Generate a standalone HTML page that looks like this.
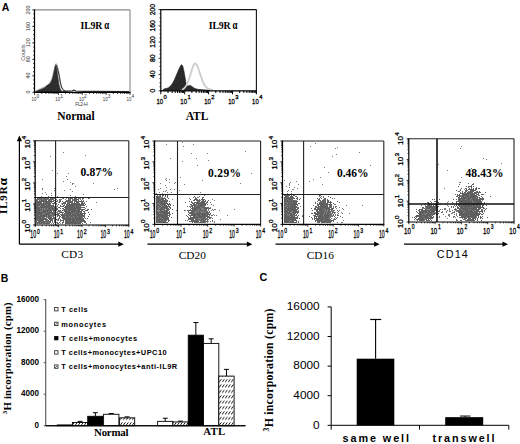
<!DOCTYPE html>
<html><head><meta charset="utf-8"><style>
html,body{margin:0;padding:0;background:#fff;width:520px;height:444px;overflow:hidden}
svg{display:block}
</style></head><body>
<svg width="520" height="444" viewBox="0 0 520 444">
<rect width="520" height="444" fill="#fff"/>
<text x="1.8" y="10.5" font-family='"Liberation Sans", sans-serif' font-size="11" font-weight="bold" fill="#000" text-anchor="start" textLength="7.6" lengthAdjust="spacingAndGlyphs" >A</text>
<text x="0.8" y="281.8" font-family='"Liberation Sans", sans-serif' font-size="10.5" font-weight="bold" fill="#000" text-anchor="start" >B</text>
<text x="259.4" y="281.3" font-family='"Liberation Sans", sans-serif' font-size="10" font-weight="bold" fill="#000" text-anchor="start" textLength="7.8" lengthAdjust="spacingAndGlyphs" >C</text>
<path d="M35,91.5 C35.50,91.25 36.83,90.55 38,90 C39.17,89.45 40.67,88.78 42,88.2 C43.33,87.62 44.83,87.12 46,86.5 C47.17,85.88 48.00,85.75 49,84.5 C50.00,83.25 51.17,81.25 52,79 C52.83,76.75 53.37,73.47 54,71 C54.63,68.53 55.25,65.03 55.8,64.2 C56.35,63.37 56.85,64.70 57.3,66 C57.75,67.30 58.08,69.67 58.5,72 C58.92,74.33 59.38,77.67 59.8,80 C60.22,82.33 60.47,84.42 61,86 C61.53,87.58 62.17,88.67 63,89.5 C63.83,90.33 64.83,90.67 66,91 C67.17,91.33 69.33,91.42 70,91.5" fill="none" stroke="#c4c4c4" stroke-width="1.6"/>
<path d="M35.5,92 C35.92,91.75 36.92,91.00 38,90.5 C39.08,90.00 40.83,89.50 42,89 C43.17,88.50 44.08,88.17 45,87.5 C45.92,86.83 46.67,85.67 47.5,85 C48.33,84.33 49.17,84.58 50,83.5 C50.83,82.42 51.78,80.67 52.5,78.5 C53.22,76.33 53.78,72.67 54.3,70.5 C54.82,68.33 55.22,65.92 55.6,65.5 C55.98,65.08 56.28,66.58 56.6,68 C56.92,69.42 57.20,71.83 57.5,74 C57.80,76.17 58.07,78.83 58.4,81 C58.73,83.17 59.07,85.42 59.5,87 C59.93,88.58 60.42,89.67 61,90.5 C61.58,91.33 62.67,91.75 63,92 Z" fill="#2e2e2e" stroke="#222" stroke-width="0.6"/>
<polyline points="55.8,64.5 57,67 58.2,71 59.3,76 60.3,82 61.5,87 63.3,90.3 66,91.3" fill="none" stroke="#222" stroke-width="0.9" />
<polyline points="63,91.6 68,91.2 72,90.8 74,90.2 76,91 84,91.3 95,91.4 129,91.5" fill="none" stroke="#333" stroke-width="1.2" />
<path d="M162.5,90.5 C162.75,90.25 163.25,89.37 164,89 C164.75,88.63 166.00,88.73 167,88.3 C168.00,87.87 169.00,87.37 170,86.4 C171.00,85.43 172.00,84.23 173,82.5 C174.00,80.77 175.08,78.08 176,76 C176.92,73.92 177.75,71.67 178.5,70 C179.25,68.33 179.95,66.87 180.5,66 C181.05,65.13 181.38,64.63 181.8,64.8 C182.22,64.97 182.58,65.63 183,67 C183.42,68.37 183.88,70.83 184.3,73 C184.72,75.17 185.13,78.00 185.5,80 C185.87,82.00 186.08,84.00 186.5,85 C186.92,86.00 187.42,85.97 188,86 C188.58,86.03 189.33,85.12 190,85.2 C190.67,85.28 191.17,85.95 192,86.5 C192.83,87.05 193.67,87.98 195,88.5 C196.33,89.02 197.50,89.30 200,89.6 C202.50,89.90 208.33,90.18 210,90.3 Z" fill="#2a2a2a" stroke="#222" stroke-width="0.6"/>
<path d="M182,90 C182.50,89.58 184.08,88.67 185,87.5 C185.92,86.33 186.67,84.92 187.5,83 C188.33,81.08 189.17,78.50 190,76 C190.83,73.50 191.75,70.03 192.5,68 C193.25,65.97 193.83,64.38 194.5,63.8 C195.17,63.22 195.83,63.63 196.5,64.5 C197.17,65.37 197.75,67.00 198.5,69 C199.25,71.00 200.17,74.17 201,76.5 C201.83,78.83 202.67,81.25 203.5,83 C204.33,84.75 205.08,86.00 206,87 C206.92,88.00 207.83,88.50 209,89 C210.17,89.50 212.33,89.83 213,90" fill="none" stroke="#cdcdcd" stroke-width="1.8"/>
<line x1="34.5" y1="9.9" x2="130.0" y2="9.9" stroke="#888" stroke-width="1.1" />
<line x1="130.0" y1="9.9" x2="130.0" y2="92.3" stroke="#888" stroke-width="1.1" />
<line x1="32.3" y1="92.3" x2="34.5" y2="92.3" stroke="#000" stroke-width="0.8" />
<line x1="33.2" y1="88.17999999999999" x2="34.5" y2="88.17999999999999" stroke="#000" stroke-width="0.8" />
<line x1="33.2" y1="84.06" x2="34.5" y2="84.06" stroke="#000" stroke-width="0.8" />
<line x1="33.2" y1="79.94" x2="34.5" y2="79.94" stroke="#000" stroke-width="0.8" />
<line x1="32.3" y1="75.82" x2="34.5" y2="75.82" stroke="#000" stroke-width="0.8" />
<line x1="33.2" y1="71.7" x2="34.5" y2="71.7" stroke="#000" stroke-width="0.8" />
<line x1="33.2" y1="67.58" x2="34.5" y2="67.58" stroke="#000" stroke-width="0.8" />
<line x1="33.2" y1="63.46" x2="34.5" y2="63.46" stroke="#000" stroke-width="0.8" />
<line x1="32.3" y1="59.339999999999996" x2="34.5" y2="59.339999999999996" stroke="#000" stroke-width="0.8" />
<line x1="33.2" y1="55.22" x2="34.5" y2="55.22" stroke="#000" stroke-width="0.8" />
<line x1="33.2" y1="51.1" x2="34.5" y2="51.1" stroke="#000" stroke-width="0.8" />
<line x1="33.2" y1="46.98" x2="34.5" y2="46.98" stroke="#000" stroke-width="0.8" />
<line x1="32.3" y1="42.86000000000001" x2="34.5" y2="42.86000000000001" stroke="#000" stroke-width="0.8" />
<line x1="33.2" y1="38.74" x2="34.5" y2="38.74" stroke="#000" stroke-width="0.8" />
<line x1="33.2" y1="34.620000000000005" x2="34.5" y2="34.620000000000005" stroke="#000" stroke-width="0.8" />
<line x1="33.2" y1="30.5" x2="34.5" y2="30.5" stroke="#000" stroke-width="0.8" />
<line x1="32.3" y1="26.379999999999995" x2="34.5" y2="26.379999999999995" stroke="#000" stroke-width="0.8" />
<line x1="33.2" y1="22.260000000000005" x2="34.5" y2="22.260000000000005" stroke="#000" stroke-width="0.8" />
<line x1="33.2" y1="18.14" x2="34.5" y2="18.14" stroke="#000" stroke-width="0.8" />
<line x1="33.2" y1="14.02000000000001" x2="34.5" y2="14.02000000000001" stroke="#000" stroke-width="0.8" />
<line x1="32.3" y1="9.900000000000006" x2="34.5" y2="9.900000000000006" stroke="#000" stroke-width="0.8" />
<line x1="34.5" y1="92.3" x2="34.5" y2="94.86" stroke="#000" stroke-width="0.8" />
<line x1="41.68709114647755" y1="92.3" x2="41.68709114647755" y2="93.89999999999999" stroke="#000" stroke-width="0.8" />
<line x1="45.89126995643194" y1="92.3" x2="45.89126995643194" y2="93.89999999999999" stroke="#000" stroke-width="0.8" />
<line x1="48.874182292955105" y1="92.3" x2="48.874182292955105" y2="93.89999999999999" stroke="#000" stroke-width="0.8" />
<line x1="51.18790885352245" y1="92.3" x2="51.18790885352245" y2="93.89999999999999" stroke="#000" stroke-width="0.8" />
<line x1="53.0783611029095" y1="92.3" x2="53.0783611029095" y2="93.89999999999999" stroke="#000" stroke-width="0.8" />
<line x1="54.676715705340385" y1="92.3" x2="54.676715705340385" y2="93.89999999999999" stroke="#000" stroke-width="0.8" />
<line x1="56.061273439432654" y1="92.3" x2="56.061273439432654" y2="93.89999999999999" stroke="#000" stroke-width="0.8" />
<line x1="57.28253991286388" y1="92.3" x2="57.28253991286388" y2="93.89999999999999" stroke="#000" stroke-width="0.8" />
<line x1="58.375" y1="92.3" x2="58.375" y2="94.86" stroke="#000" stroke-width="0.8" />
<line x1="65.56209114647756" y1="92.3" x2="65.56209114647756" y2="93.89999999999999" stroke="#000" stroke-width="0.8" />
<line x1="69.76626995643194" y1="92.3" x2="69.76626995643194" y2="93.89999999999999" stroke="#000" stroke-width="0.8" />
<line x1="72.74918229295511" y1="92.3" x2="72.74918229295511" y2="93.89999999999999" stroke="#000" stroke-width="0.8" />
<line x1="75.06290885352244" y1="92.3" x2="75.06290885352244" y2="93.89999999999999" stroke="#000" stroke-width="0.8" />
<line x1="76.9533611029095" y1="92.3" x2="76.9533611029095" y2="93.89999999999999" stroke="#000" stroke-width="0.8" />
<line x1="78.55171570534038" y1="92.3" x2="78.55171570534038" y2="93.89999999999999" stroke="#000" stroke-width="0.8" />
<line x1="79.93627343943265" y1="92.3" x2="79.93627343943265" y2="93.89999999999999" stroke="#000" stroke-width="0.8" />
<line x1="81.15753991286388" y1="92.3" x2="81.15753991286388" y2="93.89999999999999" stroke="#000" stroke-width="0.8" />
<line x1="82.25" y1="92.3" x2="82.25" y2="94.86" stroke="#000" stroke-width="0.8" />
<line x1="89.43709114647756" y1="92.3" x2="89.43709114647756" y2="93.89999999999999" stroke="#000" stroke-width="0.8" />
<line x1="93.64126995643194" y1="92.3" x2="93.64126995643194" y2="93.89999999999999" stroke="#000" stroke-width="0.8" />
<line x1="96.62418229295511" y1="92.3" x2="96.62418229295511" y2="93.89999999999999" stroke="#000" stroke-width="0.8" />
<line x1="98.93790885352244" y1="92.3" x2="98.93790885352244" y2="93.89999999999999" stroke="#000" stroke-width="0.8" />
<line x1="100.8283611029095" y1="92.3" x2="100.8283611029095" y2="93.89999999999999" stroke="#000" stroke-width="0.8" />
<line x1="102.42671570534038" y1="92.3" x2="102.42671570534038" y2="93.89999999999999" stroke="#000" stroke-width="0.8" />
<line x1="103.81127343943265" y1="92.3" x2="103.81127343943265" y2="93.89999999999999" stroke="#000" stroke-width="0.8" />
<line x1="105.03253991286388" y1="92.3" x2="105.03253991286388" y2="93.89999999999999" stroke="#000" stroke-width="0.8" />
<line x1="106.125" y1="92.3" x2="106.125" y2="94.86" stroke="#000" stroke-width="0.8" />
<line x1="113.31209114647756" y1="92.3" x2="113.31209114647756" y2="93.89999999999999" stroke="#000" stroke-width="0.8" />
<line x1="117.51626995643194" y1="92.3" x2="117.51626995643194" y2="93.89999999999999" stroke="#000" stroke-width="0.8" />
<line x1="120.49918229295511" y1="92.3" x2="120.49918229295511" y2="93.89999999999999" stroke="#000" stroke-width="0.8" />
<line x1="122.81290885352244" y1="92.3" x2="122.81290885352244" y2="93.89999999999999" stroke="#000" stroke-width="0.8" />
<line x1="124.7033611029095" y1="92.3" x2="124.7033611029095" y2="93.89999999999999" stroke="#000" stroke-width="0.8" />
<line x1="126.30171570534038" y1="92.3" x2="126.30171570534038" y2="93.89999999999999" stroke="#000" stroke-width="0.8" />
<line x1="127.68627343943265" y1="92.3" x2="127.68627343943265" y2="93.89999999999999" stroke="#000" stroke-width="0.8" />
<line x1="128.90753991286388" y1="92.3" x2="128.90753991286388" y2="93.89999999999999" stroke="#000" stroke-width="0.8" />
<line x1="130.0" y1="92.3" x2="130.0" y2="94.86" stroke="#000" stroke-width="0.8" />
<line x1="34.5" y1="9.4" x2="34.5" y2="92.8" stroke="#000" stroke-width="1.2" />
<line x1="34.0" y1="92.3" x2="130.5" y2="92.3" stroke="#000" stroke-width="1.2" />
<line x1="160.8" y1="9.6" x2="256.4" y2="9.6" stroke="#111" stroke-width="1.1" />
<line x1="256.4" y1="9.6" x2="256.4" y2="90.8" stroke="#111" stroke-width="1.1" />
<line x1="158.60000000000002" y1="90.8" x2="160.8" y2="90.8" stroke="#000" stroke-width="0.8" />
<line x1="159.5" y1="86.74" x2="160.8" y2="86.74" stroke="#000" stroke-width="0.8" />
<line x1="159.5" y1="82.67999999999999" x2="160.8" y2="82.67999999999999" stroke="#000" stroke-width="0.8" />
<line x1="159.5" y1="78.62" x2="160.8" y2="78.62" stroke="#000" stroke-width="0.8" />
<line x1="158.60000000000002" y1="74.56" x2="160.8" y2="74.56" stroke="#000" stroke-width="0.8" />
<line x1="159.5" y1="70.5" x2="160.8" y2="70.5" stroke="#000" stroke-width="0.8" />
<line x1="159.5" y1="66.44" x2="160.8" y2="66.44" stroke="#000" stroke-width="0.8" />
<line x1="159.5" y1="62.379999999999995" x2="160.8" y2="62.379999999999995" stroke="#000" stroke-width="0.8" />
<line x1="158.60000000000002" y1="58.31999999999999" x2="160.8" y2="58.31999999999999" stroke="#000" stroke-width="0.8" />
<line x1="159.5" y1="54.26" x2="160.8" y2="54.26" stroke="#000" stroke-width="0.8" />
<line x1="159.5" y1="50.199999999999996" x2="160.8" y2="50.199999999999996" stroke="#000" stroke-width="0.8" />
<line x1="159.5" y1="46.13999999999999" x2="160.8" y2="46.13999999999999" stroke="#000" stroke-width="0.8" />
<line x1="158.60000000000002" y1="42.08" x2="160.8" y2="42.08" stroke="#000" stroke-width="0.8" />
<line x1="159.5" y1="38.019999999999996" x2="160.8" y2="38.019999999999996" stroke="#000" stroke-width="0.8" />
<line x1="159.5" y1="33.96" x2="160.8" y2="33.96" stroke="#000" stroke-width="0.8" />
<line x1="159.5" y1="29.89999999999999" x2="160.8" y2="29.89999999999999" stroke="#000" stroke-width="0.8" />
<line x1="158.60000000000002" y1="25.83999999999999" x2="160.8" y2="25.83999999999999" stroke="#000" stroke-width="0.8" />
<line x1="159.5" y1="21.78" x2="160.8" y2="21.78" stroke="#000" stroke-width="0.8" />
<line x1="159.5" y1="17.72" x2="160.8" y2="17.72" stroke="#000" stroke-width="0.8" />
<line x1="159.5" y1="13.659999999999997" x2="160.8" y2="13.659999999999997" stroke="#000" stroke-width="0.8" />
<line x1="158.60000000000002" y1="9.599999999999994" x2="160.8" y2="9.599999999999994" stroke="#000" stroke-width="0.8" />
<line x1="160.8" y1="90.8" x2="160.8" y2="94.32" stroke="#000" stroke-width="1.0" />
<line x1="167.99461689636917" y1="90.8" x2="167.99461689636917" y2="93.0" stroke="#000" stroke-width="1.0" />
<line x1="172.20319798779994" y1="90.8" x2="172.20319798779994" y2="93.0" stroke="#000" stroke-width="1.0" />
<line x1="175.18923379273832" y1="90.8" x2="175.18923379273832" y2="93.0" stroke="#000" stroke-width="1.0" />
<line x1="177.50538310363086" y1="90.8" x2="177.50538310363086" y2="93.0" stroke="#000" stroke-width="1.0" />
<line x1="179.3978148841691" y1="90.8" x2="179.3978148841691" y2="93.0" stroke="#000" stroke-width="1.0" />
<line x1="180.99784315634074" y1="90.8" x2="180.99784315634074" y2="93.0" stroke="#000" stroke-width="1.0" />
<line x1="182.38385068910745" y1="90.8" x2="182.38385068910745" y2="93.0" stroke="#000" stroke-width="1.0" />
<line x1="183.60639597559987" y1="90.8" x2="183.60639597559987" y2="93.0" stroke="#000" stroke-width="1.0" />
<line x1="184.7" y1="90.8" x2="184.7" y2="94.32" stroke="#000" stroke-width="1.0" />
<line x1="191.89461689636914" y1="90.8" x2="191.89461689636914" y2="93.0" stroke="#000" stroke-width="1.0" />
<line x1="196.10319798779994" y1="90.8" x2="196.10319798779994" y2="93.0" stroke="#000" stroke-width="1.0" />
<line x1="199.0892337927383" y1="90.8" x2="199.0892337927383" y2="93.0" stroke="#000" stroke-width="1.0" />
<line x1="201.40538310363084" y1="90.8" x2="201.40538310363084" y2="93.0" stroke="#000" stroke-width="1.0" />
<line x1="203.29781488416907" y1="90.8" x2="203.29781488416907" y2="93.0" stroke="#000" stroke-width="1.0" />
<line x1="204.89784315634074" y1="90.8" x2="204.89784315634074" y2="93.0" stroke="#000" stroke-width="1.0" />
<line x1="206.28385068910745" y1="90.8" x2="206.28385068910745" y2="93.0" stroke="#000" stroke-width="1.0" />
<line x1="207.50639597559984" y1="90.8" x2="207.50639597559984" y2="93.0" stroke="#000" stroke-width="1.0" />
<line x1="208.6" y1="90.8" x2="208.6" y2="94.32" stroke="#000" stroke-width="1.0" />
<line x1="215.79461689636915" y1="90.8" x2="215.79461689636915" y2="93.0" stroke="#000" stroke-width="1.0" />
<line x1="220.00319798779992" y1="90.8" x2="220.00319798779992" y2="93.0" stroke="#000" stroke-width="1.0" />
<line x1="222.98923379273828" y1="90.8" x2="222.98923379273828" y2="93.0" stroke="#000" stroke-width="1.0" />
<line x1="225.30538310363085" y1="90.8" x2="225.30538310363085" y2="93.0" stroke="#000" stroke-width="1.0" />
<line x1="227.19781488416908" y1="90.8" x2="227.19781488416908" y2="93.0" stroke="#000" stroke-width="1.0" />
<line x1="228.79784315634072" y1="90.8" x2="228.79784315634072" y2="93.0" stroke="#000" stroke-width="1.0" />
<line x1="230.18385068910743" y1="90.8" x2="230.18385068910743" y2="93.0" stroke="#000" stroke-width="1.0" />
<line x1="231.40639597559985" y1="90.8" x2="231.40639597559985" y2="93.0" stroke="#000" stroke-width="1.0" />
<line x1="232.5" y1="90.8" x2="232.5" y2="94.32" stroke="#000" stroke-width="1.0" />
<line x1="239.69461689636915" y1="90.8" x2="239.69461689636915" y2="93.0" stroke="#000" stroke-width="1.0" />
<line x1="243.9031979877999" y1="90.8" x2="243.9031979877999" y2="93.0" stroke="#000" stroke-width="1.0" />
<line x1="246.88923379273828" y1="90.8" x2="246.88923379273828" y2="93.0" stroke="#000" stroke-width="1.0" />
<line x1="249.20538310363082" y1="90.8" x2="249.20538310363082" y2="93.0" stroke="#000" stroke-width="1.0" />
<line x1="251.09781488416905" y1="90.8" x2="251.09781488416905" y2="93.0" stroke="#000" stroke-width="1.0" />
<line x1="252.69784315634072" y1="90.8" x2="252.69784315634072" y2="93.0" stroke="#000" stroke-width="1.0" />
<line x1="254.08385068910744" y1="90.8" x2="254.08385068910744" y2="93.0" stroke="#000" stroke-width="1.0" />
<line x1="255.30639597559986" y1="90.8" x2="255.30639597559986" y2="93.0" stroke="#000" stroke-width="1.0" />
<line x1="256.4" y1="90.8" x2="256.4" y2="94.32" stroke="#000" stroke-width="1.0" />
<line x1="160.8" y1="9.1" x2="160.8" y2="91.3" stroke="#000" stroke-width="1.2" />
<line x1="160.3" y1="90.8" x2="256.9" y2="90.8" stroke="#000" stroke-width="1.2" />
<text x="30.2" y="92.0" font-family='"Liberation Sans", sans-serif' font-size="5.4" font-weight="normal" fill="#333" text-anchor="middle" transform="rotate(-90 30.2 92.0)" >0</text>
<text x="30.2" y="75.6" font-family='"Liberation Sans", sans-serif' font-size="5.4" font-weight="normal" fill="#333" text-anchor="middle" transform="rotate(-90 30.2 75.6)" >40</text>
<text x="30.2" y="59.199999999999996" font-family='"Liberation Sans", sans-serif' font-size="5.4" font-weight="normal" fill="#333" text-anchor="middle" transform="rotate(-90 30.2 59.199999999999996)" >80</text>
<text x="30.2" y="42.800000000000004" font-family='"Liberation Sans", sans-serif' font-size="5.4" font-weight="normal" fill="#333" text-anchor="middle" transform="rotate(-90 30.2 42.800000000000004)" >120</text>
<text x="30.2" y="26.39999999999999" font-family='"Liberation Sans", sans-serif' font-size="5.4" font-weight="normal" fill="#333" text-anchor="middle" transform="rotate(-90 30.2 26.39999999999999)" >160</text>
<text x="30.2" y="10.0" font-family='"Liberation Sans", sans-serif' font-size="5.4" font-weight="normal" fill="#333" text-anchor="middle" transform="rotate(-90 30.2 10.0)" >200</text>
<text x="24.8" y="52.5" font-family='"Liberation Sans", sans-serif' font-size="5.2" font-weight="normal" fill="#444" text-anchor="middle" transform="rotate(-90 24.8 52.5)" >Counts</text>
<text x="36.4" y="100.6" font-family='"Liberation Sans", sans-serif' font-size="6" font-weight="normal" fill="#333" text-anchor="end" textLength="4.8" lengthAdjust="spacingAndGlyphs" >10</text>
<text x="36.6" y="97.6" font-family='"Liberation Sans", sans-serif' font-size="4.8" font-weight="normal" fill="#333" text-anchor="start" >0</text>
<text x="60.15" y="100.6" font-family='"Liberation Sans", sans-serif' font-size="6" font-weight="normal" fill="#333" text-anchor="end" textLength="4.8" lengthAdjust="spacingAndGlyphs" >10</text>
<text x="60.35" y="97.6" font-family='"Liberation Sans", sans-serif' font-size="4.8" font-weight="normal" fill="#333" text-anchor="start" >1</text>
<text x="83.9" y="100.6" font-family='"Liberation Sans", sans-serif' font-size="6" font-weight="normal" fill="#333" text-anchor="end" textLength="4.8" lengthAdjust="spacingAndGlyphs" >10</text>
<text x="84.1" y="97.6" font-family='"Liberation Sans", sans-serif' font-size="4.8" font-weight="normal" fill="#333" text-anchor="start" >2</text>
<text x="107.65" y="100.6" font-family='"Liberation Sans", sans-serif' font-size="6" font-weight="normal" fill="#333" text-anchor="end" textLength="4.8" lengthAdjust="spacingAndGlyphs" >10</text>
<text x="107.85" y="97.6" font-family='"Liberation Sans", sans-serif' font-size="4.8" font-weight="normal" fill="#333" text-anchor="start" >3</text>
<text x="131.4" y="100.6" font-family='"Liberation Sans", sans-serif' font-size="6" font-weight="normal" fill="#333" text-anchor="end" textLength="4.8" lengthAdjust="spacingAndGlyphs" >10</text>
<text x="131.6" y="97.6" font-family='"Liberation Sans", sans-serif' font-size="4.8" font-weight="normal" fill="#333" text-anchor="start" >4</text>
<text x="81.5" y="106" font-family='"Liberation Sans", sans-serif' font-size="5.2" font-weight="normal" fill="#444" text-anchor="middle" textLength="12.5" lengthAdjust="spacing" >FL2-H</text>
<text x="155.3" y="90.5" font-family='"Liberation Sans", sans-serif' font-size="6.8" font-weight="normal" fill="#000" text-anchor="middle" transform="rotate(-90 155.3 90.5)" stroke="#000" stroke-width="0.3">0</text>
<text x="155.3" y="74.32" font-family='"Liberation Sans", sans-serif' font-size="6.8" font-weight="normal" fill="#000" text-anchor="middle" transform="rotate(-90 155.3 74.32)" stroke="#000" stroke-width="0.3">40</text>
<text x="155.3" y="58.13999999999999" font-family='"Liberation Sans", sans-serif' font-size="6.8" font-weight="normal" fill="#000" text-anchor="middle" transform="rotate(-90 155.3 58.13999999999999)" stroke="#000" stroke-width="0.3">80</text>
<text x="155.3" y="41.96" font-family='"Liberation Sans", sans-serif' font-size="6.8" font-weight="normal" fill="#000" text-anchor="middle" transform="rotate(-90 155.3 41.96)" stroke="#000" stroke-width="0.3">120</text>
<text x="155.3" y="25.779999999999987" font-family='"Liberation Sans", sans-serif' font-size="6.8" font-weight="normal" fill="#000" text-anchor="middle" transform="rotate(-90 155.3 25.779999999999987)" stroke="#000" stroke-width="0.3">160</text>
<text x="155.3" y="9.599999999999994" font-family='"Liberation Sans", sans-serif' font-size="6.8" font-weight="normal" fill="#000" text-anchor="middle" transform="rotate(-90 155.3 9.599999999999994)" stroke="#000" stroke-width="0.3">200</text>
<text x="163.0" y="103.8" font-family='"Liberation Sans", sans-serif' font-size="8" font-weight="normal" fill="#000" text-anchor="end" textLength="6.6" lengthAdjust="spacingAndGlyphs" stroke="#000" stroke-width="0.3">10</text>
<text x="163.5" y="99.4" font-family='"Liberation Sans", sans-serif' font-size="5.8" font-weight="normal" fill="#000" text-anchor="start" stroke="#000" stroke-width="0.3">0</text>
<text x="186.93" y="103.8" font-family='"Liberation Sans", sans-serif' font-size="8" font-weight="normal" fill="#000" text-anchor="end" textLength="6.6" lengthAdjust="spacingAndGlyphs" stroke="#000" stroke-width="0.3">10</text>
<text x="187.43" y="99.4" font-family='"Liberation Sans", sans-serif' font-size="5.8" font-weight="normal" fill="#000" text-anchor="start" stroke="#000" stroke-width="0.3">1</text>
<text x="210.86" y="103.8" font-family='"Liberation Sans", sans-serif' font-size="8" font-weight="normal" fill="#000" text-anchor="end" textLength="6.6" lengthAdjust="spacingAndGlyphs" stroke="#000" stroke-width="0.3">10</text>
<text x="211.36" y="99.4" font-family='"Liberation Sans", sans-serif' font-size="5.8" font-weight="normal" fill="#000" text-anchor="start" stroke="#000" stroke-width="0.3">2</text>
<text x="234.79" y="103.8" font-family='"Liberation Sans", sans-serif' font-size="8" font-weight="normal" fill="#000" text-anchor="end" textLength="6.6" lengthAdjust="spacingAndGlyphs" stroke="#000" stroke-width="0.3">10</text>
<text x="235.29" y="99.4" font-family='"Liberation Sans", sans-serif' font-size="5.8" font-weight="normal" fill="#000" text-anchor="start" stroke="#000" stroke-width="0.3">3</text>
<text x="258.71999999999997" y="103.8" font-family='"Liberation Sans", sans-serif' font-size="8" font-weight="normal" fill="#000" text-anchor="end" textLength="6.6" lengthAdjust="spacingAndGlyphs" stroke="#000" stroke-width="0.3">10</text>
<text x="259.21999999999997" y="99.4" font-family='"Liberation Sans", sans-serif' font-size="5.8" font-weight="normal" fill="#000" text-anchor="start" stroke="#000" stroke-width="0.3">4</text>
<text x="80.6" y="29" font-family='"Liberation Serif", serif' font-size="9.8" font-weight="bold" fill="#000" text-anchor="start" textLength="21.8" lengthAdjust="spacing" >IL9R</text>
<text x="104.2" y="29" font-family='"Liberation Serif", serif' font-size="11.5" font-weight="bold" fill="#000" text-anchor="start" textLength="5.0" lengthAdjust="spacingAndGlyphs" >α</text>
<text x="208.8" y="28.8" font-family='"Liberation Serif", serif' font-size="9.8" font-weight="bold" fill="#000" text-anchor="start" textLength="21.8" lengthAdjust="spacing" >IL9R</text>
<text x="232.4" y="28.8" font-family='"Liberation Serif", serif' font-size="11.5" font-weight="bold" fill="#000" text-anchor="start" textLength="5.0" lengthAdjust="spacingAndGlyphs" >α</text>
<text x="57.2" y="119.5" font-family='"Liberation Serif", serif' font-size="11.5" font-weight="bold" fill="#000" text-anchor="start" textLength="37.5" lengthAdjust="spacing" >Normal</text>
<text x="185.8" y="120.2" font-family='"Liberation Serif", serif' font-size="11.5" font-weight="bold" fill="#000" text-anchor="start" textLength="22.5" lengthAdjust="spacing" >ATL</text>
<path fill="#5f5f5f" d="M37 198h12v1h-12zM50 198h4v1h-4zM55 198h1v1h-1zM63 198h1v1h-1zM66 198h1v1h-1zM68 198h1v1h-1zM70 198h3v1h-3zM74 198h3v1h-3zM82 198h2v1h-2zM88 198h1v1h-1zM36 199h17v1h-17zM55 199h2v1h-2zM59 199h1v1h-1zM68 199h3v1h-3zM72 199h7v1h-7zM36 200h2v1h-2zM39 200h13v1h-13zM53 200h2v1h-2zM57 200h1v1h-1zM59 200h2v1h-2zM66 200h11v1h-11zM78 200h1v1h-1zM36 201h19v1h-19zM56 201h1v1h-1zM58 201h3v1h-3zM62 201h1v1h-1zM65 201h19v1h-19zM86 201h1v1h-1zM36 202h16v1h-16zM53 202h3v1h-3zM58 202h3v1h-3zM63 202h16v1h-16zM81 202h2v1h-2zM84 202h1v1h-1zM36 203h24v1h-24zM61 203h5v1h-5zM67 203h13v1h-13zM81 203h4v1h-4zM36 204h16v1h-16zM53 204h2v1h-2zM56 204h1v1h-1zM58 204h1v1h-1zM62 204h1v1h-1zM64 204h1v1h-1zM66 204h18v1h-18zM85 204h1v1h-1zM36 205h19v1h-19zM57 205h2v1h-2zM60 205h1v1h-1zM63 205h2v1h-2zM66 205h19v1h-19zM36 206h20v1h-20zM57 206h2v1h-2zM60 206h21v1h-21zM86 206h1v1h-1zM36 207h19v1h-19zM56 207h4v1h-4zM61 207h1v1h-1zM64 207h21v1h-21zM36 208h25v1h-25zM62 208h2v1h-2zM65 208h16v1h-16zM85 208h1v1h-1zM36 209h19v1h-19zM56 209h3v1h-3zM60 209h1v1h-1zM62 209h23v1h-23zM87 209h2v1h-2zM91 209h1v1h-1zM36 210h19v1h-19zM56 210h1v1h-1zM58 210h1v1h-1zM60 210h1v1h-1zM62 210h18v1h-18zM81 210h2v1h-2zM85 210h3v1h-3zM36 211h16v1h-16zM53 211h3v1h-3zM57 211h6v1h-6zM64 211h18v1h-18zM83 211h2v1h-2zM36 212h20v1h-20zM58 212h24v1h-24zM84 212h1v1h-1zM88 212h1v1h-1zM36 213h27v1h-27zM64 213h22v1h-22zM36 214h24v1h-24zM61 214h22v1h-22zM84 214h1v1h-1zM89 214h1v1h-1zM36 215h20v1h-20zM57 215h28v1h-28zM36 216h18v1h-18zM55 216h3v1h-3zM59 216h26v1h-26zM88 216h1v1h-1zM36 217h20v1h-20zM59 217h1v1h-1zM61 217h22v1h-22zM84 217h1v1h-1zM36 218h20v1h-20zM59 218h1v1h-1zM62 218h22v1h-22zM85 218h1v1h-1zM87 218h1v1h-1zM36 219h17v1h-17zM54 219h3v1h-3zM58 219h1v1h-1zM60 219h1v1h-1zM63 219h21v1h-21zM36 220h23v1h-23zM61 220h3v1h-3zM65 220h20v1h-20zM36 221h20v1h-20zM57 221h1v1h-1zM60 221h1v1h-1zM63 221h1v1h-1zM65 221h21v1h-21zM36 222h15v1h-15zM52 222h1v1h-1zM54 222h1v1h-1zM57 222h1v1h-1zM59 222h1v1h-1zM61 222h3v1h-3zM65 222h17v1h-17zM84 222h2v1h-2zM90 222h1v1h-1zM36 223h16v1h-16zM53 223h1v1h-1zM55 223h1v1h-1zM57 223h2v1h-2zM62 223h1v1h-1zM65 223h16v1h-16zM82 223h1v1h-1zM86 223h1v1h-1z"/>
<path fill="#7a7a7a" d="M63 152h1v1h-1zM85 155h1v1h-1zM50 156h1v1h-1zM52 170h1v1h-1zM101 170h1v1h-1zM57 173h1v1h-1zM68 173h1v1h-1zM86 174h1v1h-1zM66 176h1v1h-1zM42 179h1v1h-1zM67 179h1v1h-1zM63 181h1v1h-1zM70 182h1v1h-1zM72 183h2v1h-2zM93 183h1v1h-1zM72 184h1v1h-1zM75 186h1v1h-1zM42 188h1v1h-1zM54 188h1v1h-1zM117 188h1v1h-1zM42 189h1v1h-1zM70 189h1v1h-1zM114 189h1v1h-1zM54 190h1v1h-1zM64 190h1v1h-1zM72 191h1v1h-1zM45 192h1v1h-1zM42 193h1v1h-1zM51 193h1v1h-1zM46 194h1v1h-1zM83 194h1v1h-1zM51 195h1v1h-1zM70 195h1v1h-1zM41 196h1v1h-1zM48 196h1v1h-1zM57 196h1v1h-1zM75 196h1v1h-1zM41 197h1v1h-1zM56 197h1v1h-1zM58 197h1v1h-1zM60 197h1v1h-1zM65 197h1v1h-1zM72 197h2v1h-2zM98 197h1v1h-1zM121 197h1v1h-1zM42 198h1v1h-1zM46 198h1v1h-1zM53 198h2v1h-2zM62 198h1v1h-1zM66 198h1v1h-1zM69 198h1v1h-1zM78 198h3v1h-3zM89 198h1v1h-1zM36 199h1v1h-1zM39 199h1v1h-1zM47 199h2v1h-2zM53 199h1v1h-1zM55 199h2v1h-2zM60 199h2v1h-2zM65 199h1v1h-1zM69 199h1v1h-1zM72 199h2v1h-2zM80 199h1v1h-1zM82 199h1v1h-1zM44 200h1v1h-1zM50 200h1v1h-1zM53 200h1v1h-1zM67 200h1v1h-1zM73 200h1v1h-1zM81 200h1v1h-1zM83 200h1v1h-1zM67 202h1v1h-1zM96 202h1v1h-1z"/>
<path fill="#fff" d="M47 200h1v1h-1zM56 200h1v1h-1zM59 200h1v1h-1zM61 200h1v1h-1zM64 200h1v1h-1zM71 200h1v1h-1zM80 200h1v1h-1zM54 201h2v1h-2zM57 201h2v1h-2zM73 201h1v1h-1zM88 201h1v1h-1zM42 202h1v1h-1zM52 202h2v1h-2zM58 202h1v1h-1zM60 202h1v1h-1zM66 202h1v1h-1zM73 202h1v1h-1zM75 202h1v1h-1zM51 203h1v1h-1zM57 203h3v1h-3zM70 203h1v1h-1zM51 204h1v1h-1zM54 204h1v1h-1zM56 204h1v1h-1zM59 204h1v1h-1zM54 205h1v1h-1zM58 205h2v1h-2zM58 206h2v1h-2zM64 206h1v1h-1zM57 207h1v1h-1zM61 207h1v1h-1zM58 208h2v1h-2zM61 208h1v1h-1zM58 209h5v1h-5zM56 210h1v1h-1zM56 211h2v1h-2zM62 211h1v1h-1zM56 212h1v1h-1zM58 212h1v1h-1zM64 212h1v1h-1zM55 213h2v1h-2zM60 213h2v1h-2zM59 214h2v1h-2zM47 215h1v1h-1zM60 215h1v1h-1zM55 216h2v1h-2zM61 216h1v1h-1zM45 217h1v1h-1zM52 217h1v1h-1zM56 217h3v1h-3zM47 218h1v1h-1zM58 218h1v1h-1zM48 219h1v1h-1zM55 219h1v1h-1zM57 219h1v1h-1zM44 220h1v1h-1zM49 220h1v1h-1zM53 220h1v1h-1zM56 220h1v1h-1zM37 221h1v1h-1zM51 221h1v1h-1zM53 221h1v1h-1zM57 221h1v1h-1zM51 222h1v1h-1zM61 222h1v1h-1zM50 223h1v1h-1z"/>
<path fill="#8a8a8a" d="M42 199h1v1h-1zM40 200h1v1h-1zM55 200h1v1h-1zM59 200h1v1h-1zM57 201h1v1h-1zM44 202h1v1h-1zM50 202h1v1h-1zM58 202h1v1h-1zM42 203h1v1h-1zM61 203h1v1h-1zM47 204h1v1h-1zM53 204h1v1h-1zM56 204h1v1h-1zM64 204h1v1h-1zM68 204h1v1h-1zM40 205h1v1h-1zM45 205h1v1h-1zM57 205h1v1h-1zM38 206h2v1h-2zM50 206h1v1h-1zM56 206h2v1h-2zM61 206h1v1h-1zM75 206h1v1h-1zM53 207h1v1h-1zM56 207h1v1h-1zM40 208h1v1h-1zM42 208h1v1h-1zM44 208h1v1h-1zM47 208h1v1h-1zM42 209h1v1h-1zM44 209h2v1h-2zM51 209h1v1h-1zM63 209h1v1h-1zM76 209h1v1h-1zM41 210h1v1h-1zM52 210h1v1h-1zM56 210h1v1h-1zM59 210h1v1h-1zM63 210h1v1h-1zM67 210h1v1h-1zM40 211h1v1h-1zM42 211h1v1h-1zM48 211h1v1h-1zM57 211h1v1h-1zM60 211h2v1h-2zM70 211h1v1h-1zM46 212h1v1h-1zM53 212h1v1h-1zM55 212h3v1h-3zM59 212h1v1h-1zM75 212h1v1h-1zM43 213h2v1h-2zM50 213h1v1h-1zM73 213h1v1h-1zM79 213h1v1h-1zM42 214h1v1h-1zM50 214h2v1h-2zM60 214h1v1h-1zM65 214h1v1h-1zM71 214h1v1h-1zM76 214h1v1h-1zM39 215h1v1h-1zM47 215h1v1h-1zM52 215h1v1h-1zM47 216h1v1h-1zM51 216h2v1h-2zM65 216h1v1h-1zM69 216h1v1h-1zM73 216h1v1h-1zM77 216h1v1h-1zM82 216h1v1h-1zM41 217h1v1h-1zM44 217h1v1h-1zM47 217h1v1h-1zM55 217h1v1h-1zM61 217h1v1h-1zM65 217h1v1h-1zM71 217h1v1h-1zM74 217h1v1h-1zM46 218h1v1h-1zM58 218h1v1h-1zM82 218h1v1h-1zM38 219h1v1h-1zM57 219h1v1h-1zM43 220h1v1h-1zM45 220h1v1h-1zM47 220h1v1h-1zM57 220h1v1h-1zM60 220h1v1h-1zM71 220h1v1h-1zM75 220h1v1h-1zM78 221h1v1h-1zM40 222h1v1h-1zM45 222h2v1h-2zM48 222h1v1h-1zM52 222h1v1h-1zM56 222h1v1h-1zM36 223h1v1h-1zM38 223h1v1h-1zM42 223h1v1h-1zM51 223h1v1h-1zM60 223h1v1h-1z"/>
<line x1="35.2" y1="140.8" x2="128.8" y2="140.8" stroke="#222" stroke-width="1.1" />
<line x1="128.8" y1="140.8" x2="128.8" y2="225.0" stroke="#222" stroke-width="1.1" />
<line x1="55.6" y1="140.8" x2="55.6" y2="225.0" stroke="#222" stroke-width="1.1" />
<line x1="35.2" y1="197.5" x2="128.8" y2="197.5" stroke="#222" stroke-width="1.1" />
<line x1="33.0" y1="225.0" x2="35.2" y2="225.0" stroke="#000" stroke-width="0.8" />
<line x1="33.900000000000006" y1="218.6633185912732" x2="35.2" y2="218.6633185912732" stroke="#000" stroke-width="0.8" />
<line x1="33.900000000000006" y1="214.9565975881511" x2="35.2" y2="214.9565975881511" stroke="#000" stroke-width="0.8" />
<line x1="33.900000000000006" y1="212.3266371825464" x2="35.2" y2="212.3266371825464" stroke="#000" stroke-width="0.8" />
<line x1="33.900000000000006" y1="210.2866814087268" x2="35.2" y2="210.2866814087268" stroke="#000" stroke-width="0.8" />
<line x1="33.900000000000006" y1="208.6199161794243" x2="35.2" y2="208.6199161794243" stroke="#000" stroke-width="0.8" />
<line x1="33.900000000000006" y1="207.2106862576999" x2="35.2" y2="207.2106862576999" stroke="#000" stroke-width="0.8" />
<line x1="33.900000000000006" y1="205.9899557738196" x2="35.2" y2="205.9899557738196" stroke="#000" stroke-width="0.8" />
<line x1="33.900000000000006" y1="204.91319517630222" x2="35.2" y2="204.91319517630222" stroke="#000" stroke-width="0.8" />
<line x1="33.0" y1="203.95" x2="35.2" y2="203.95" stroke="#000" stroke-width="0.8" />
<line x1="33.900000000000006" y1="197.61331859127318" x2="35.2" y2="197.61331859127318" stroke="#000" stroke-width="0.8" />
<line x1="33.900000000000006" y1="193.9065975881511" x2="35.2" y2="193.9065975881511" stroke="#000" stroke-width="0.8" />
<line x1="33.900000000000006" y1="191.27663718254638" x2="35.2" y2="191.27663718254638" stroke="#000" stroke-width="0.8" />
<line x1="33.900000000000006" y1="189.2366814087268" x2="35.2" y2="189.2366814087268" stroke="#000" stroke-width="0.8" />
<line x1="33.900000000000006" y1="187.5699161794243" x2="35.2" y2="187.5699161794243" stroke="#000" stroke-width="0.8" />
<line x1="33.900000000000006" y1="186.1606862576999" x2="35.2" y2="186.1606862576999" stroke="#000" stroke-width="0.8" />
<line x1="33.900000000000006" y1="184.93995577381958" x2="35.2" y2="184.93995577381958" stroke="#000" stroke-width="0.8" />
<line x1="33.900000000000006" y1="183.8631951763022" x2="35.2" y2="183.8631951763022" stroke="#000" stroke-width="0.8" />
<line x1="33.0" y1="182.9" x2="35.2" y2="182.9" stroke="#000" stroke-width="0.8" />
<line x1="33.900000000000006" y1="176.5633185912732" x2="35.2" y2="176.5633185912732" stroke="#000" stroke-width="0.8" />
<line x1="33.900000000000006" y1="172.85659758815112" x2="35.2" y2="172.85659758815112" stroke="#000" stroke-width="0.8" />
<line x1="33.900000000000006" y1="170.2266371825464" x2="35.2" y2="170.2266371825464" stroke="#000" stroke-width="0.8" />
<line x1="33.900000000000006" y1="168.18668140872683" x2="35.2" y2="168.18668140872683" stroke="#000" stroke-width="0.8" />
<line x1="33.900000000000006" y1="166.5199161794243" x2="35.2" y2="166.5199161794243" stroke="#000" stroke-width="0.8" />
<line x1="33.900000000000006" y1="165.1106862576999" x2="35.2" y2="165.1106862576999" stroke="#000" stroke-width="0.8" />
<line x1="33.900000000000006" y1="163.8899557738196" x2="35.2" y2="163.8899557738196" stroke="#000" stroke-width="0.8" />
<line x1="33.900000000000006" y1="162.81319517630223" x2="35.2" y2="162.81319517630223" stroke="#000" stroke-width="0.8" />
<line x1="33.0" y1="161.85000000000002" x2="35.2" y2="161.85000000000002" stroke="#000" stroke-width="0.8" />
<line x1="33.900000000000006" y1="155.51331859127322" x2="35.2" y2="155.51331859127322" stroke="#000" stroke-width="0.8" />
<line x1="33.900000000000006" y1="151.8065975881511" x2="35.2" y2="151.8065975881511" stroke="#000" stroke-width="0.8" />
<line x1="33.900000000000006" y1="149.17663718254641" x2="35.2" y2="149.17663718254641" stroke="#000" stroke-width="0.8" />
<line x1="33.900000000000006" y1="147.13668140872682" x2="35.2" y2="147.13668140872682" stroke="#000" stroke-width="0.8" />
<line x1="33.900000000000006" y1="145.4699161794243" x2="35.2" y2="145.4699161794243" stroke="#000" stroke-width="0.8" />
<line x1="33.900000000000006" y1="144.0606862576999" x2="35.2" y2="144.0606862576999" stroke="#000" stroke-width="0.8" />
<line x1="33.900000000000006" y1="142.8399557738196" x2="35.2" y2="142.8399557738196" stroke="#000" stroke-width="0.8" />
<line x1="33.900000000000006" y1="141.76319517630222" x2="35.2" y2="141.76319517630222" stroke="#000" stroke-width="0.8" />
<line x1="33.0" y1="140.8" x2="35.2" y2="140.8" stroke="#000" stroke-width="0.8" />
<line x1="35.2" y1="225.0" x2="35.2" y2="227.2" stroke="#000" stroke-width="0.8" />
<line x1="42.24410189853717" y1="225.0" x2="42.24410189853717" y2="226.3" stroke="#000" stroke-width="0.8" />
<line x1="46.364637360440106" y1="225.0" x2="46.364637360440106" y2="226.3" stroke="#000" stroke-width="0.8" />
<line x1="49.288203797074324" y1="225.0" x2="49.288203797074324" y2="226.3" stroke="#000" stroke-width="0.8" />
<line x1="51.555898101462844" y1="225.0" x2="51.555898101462844" y2="226.3" stroke="#000" stroke-width="0.8" />
<line x1="53.40873925897726" y1="225.0" x2="53.40873925897726" y2="226.3" stroke="#000" stroke-width="0.8" />
<line x1="54.975294136333616" y1="225.0" x2="54.975294136333616" y2="226.3" stroke="#000" stroke-width="0.8" />
<line x1="56.33230569561148" y1="225.0" x2="56.33230569561148" y2="226.3" stroke="#000" stroke-width="0.8" />
<line x1="57.52927472088021" y1="225.0" x2="57.52927472088021" y2="226.3" stroke="#000" stroke-width="0.8" />
<line x1="58.60000000000001" y1="225.0" x2="58.60000000000001" y2="227.2" stroke="#000" stroke-width="0.8" />
<line x1="65.64410189853717" y1="225.0" x2="65.64410189853717" y2="226.3" stroke="#000" stroke-width="0.8" />
<line x1="69.7646373604401" y1="225.0" x2="69.7646373604401" y2="226.3" stroke="#000" stroke-width="0.8" />
<line x1="72.68820379707432" y1="225.0" x2="72.68820379707432" y2="226.3" stroke="#000" stroke-width="0.8" />
<line x1="74.95589810146285" y1="225.0" x2="74.95589810146285" y2="226.3" stroke="#000" stroke-width="0.8" />
<line x1="76.80873925897727" y1="225.0" x2="76.80873925897727" y2="226.3" stroke="#000" stroke-width="0.8" />
<line x1="78.37529413633362" y1="225.0" x2="78.37529413633362" y2="226.3" stroke="#000" stroke-width="0.8" />
<line x1="79.73230569561149" y1="225.0" x2="79.73230569561149" y2="226.3" stroke="#000" stroke-width="0.8" />
<line x1="80.92927472088022" y1="225.0" x2="80.92927472088022" y2="226.3" stroke="#000" stroke-width="0.8" />
<line x1="82.0" y1="225.0" x2="82.0" y2="227.2" stroke="#000" stroke-width="0.8" />
<line x1="89.04410189853718" y1="225.0" x2="89.04410189853718" y2="226.3" stroke="#000" stroke-width="0.8" />
<line x1="93.16463736044011" y1="225.0" x2="93.16463736044011" y2="226.3" stroke="#000" stroke-width="0.8" />
<line x1="96.08820379707433" y1="225.0" x2="96.08820379707433" y2="226.3" stroke="#000" stroke-width="0.8" />
<line x1="98.35589810146286" y1="225.0" x2="98.35589810146286" y2="226.3" stroke="#000" stroke-width="0.8" />
<line x1="100.20873925897727" y1="225.0" x2="100.20873925897727" y2="226.3" stroke="#000" stroke-width="0.8" />
<line x1="101.77529413633363" y1="225.0" x2="101.77529413633363" y2="226.3" stroke="#000" stroke-width="0.8" />
<line x1="103.13230569561149" y1="225.0" x2="103.13230569561149" y2="226.3" stroke="#000" stroke-width="0.8" />
<line x1="104.3292747208802" y1="225.0" x2="104.3292747208802" y2="226.3" stroke="#000" stroke-width="0.8" />
<line x1="105.4" y1="225.0" x2="105.4" y2="227.2" stroke="#000" stroke-width="0.8" />
<line x1="112.44410189853717" y1="225.0" x2="112.44410189853717" y2="226.3" stroke="#000" stroke-width="0.8" />
<line x1="116.56463736044012" y1="225.0" x2="116.56463736044012" y2="226.3" stroke="#000" stroke-width="0.8" />
<line x1="119.48820379707433" y1="225.0" x2="119.48820379707433" y2="226.3" stroke="#000" stroke-width="0.8" />
<line x1="121.75589810146285" y1="225.0" x2="121.75589810146285" y2="226.3" stroke="#000" stroke-width="0.8" />
<line x1="123.60873925897728" y1="225.0" x2="123.60873925897728" y2="226.3" stroke="#000" stroke-width="0.8" />
<line x1="125.17529413633362" y1="225.0" x2="125.17529413633362" y2="226.3" stroke="#000" stroke-width="0.8" />
<line x1="126.5323056956115" y1="225.0" x2="126.5323056956115" y2="226.3" stroke="#000" stroke-width="0.8" />
<line x1="127.72927472088021" y1="225.0" x2="127.72927472088021" y2="226.3" stroke="#000" stroke-width="0.8" />
<line x1="128.8" y1="225.0" x2="128.8" y2="227.2" stroke="#000" stroke-width="0.8" />
<line x1="35.2" y1="140.3" x2="35.2" y2="225.5" stroke="#000" stroke-width="1.2" />
<line x1="34.7" y1="225.0" x2="129.3" y2="225.0" stroke="#000" stroke-width="1.2" />
<g transform="translate(29.90,225.00) scale(0.85,1) rotate(-90)" fill="#000" font-family='"Liberation Sans", sans-serif' stroke="#000" stroke-width="0.3"><text x="-7.80" y="0" font-size="8" textLength="9" lengthAdjust="spacingAndGlyphs">10</text><text x="1.40" y="-4.96" font-size="6.40">0</text></g>
<g transform="translate(29.90,203.95) scale(0.85,1) rotate(-90)" fill="#000" font-family='"Liberation Sans", sans-serif' stroke="#000" stroke-width="0.3"><text x="-7.80" y="0" font-size="8" textLength="9" lengthAdjust="spacingAndGlyphs">10</text><text x="1.40" y="-4.96" font-size="6.40">1</text></g>
<g transform="translate(29.90,182.90) scale(0.85,1) rotate(-90)" fill="#000" font-family='"Liberation Sans", sans-serif' stroke="#000" stroke-width="0.3"><text x="-7.80" y="0" font-size="8" textLength="9" lengthAdjust="spacingAndGlyphs">10</text><text x="1.40" y="-4.96" font-size="6.40">2</text></g>
<g transform="translate(29.90,161.85) scale(0.85,1) rotate(-90)" fill="#000" font-family='"Liberation Sans", sans-serif' stroke="#000" stroke-width="0.3"><text x="-7.80" y="0" font-size="8" textLength="9" lengthAdjust="spacingAndGlyphs">10</text><text x="1.40" y="-4.96" font-size="6.40">3</text></g>
<g transform="translate(29.90,140.80) scale(0.85,1) rotate(-90)" fill="#000" font-family='"Liberation Sans", sans-serif' stroke="#000" stroke-width="0.3"><text x="-7.80" y="0" font-size="8" textLength="9" lengthAdjust="spacingAndGlyphs">10</text><text x="1.40" y="-4.96" font-size="6.40">4</text></g>
<text x="36.0" y="238.1" font-family='"Liberation Sans", sans-serif' font-size="10.2" font-weight="normal" fill="#000" text-anchor="end" textLength="5.7" lengthAdjust="spacingAndGlyphs" stroke="#000" stroke-width="0.3">10</text>
<text x="36.9" y="233.9" font-family='"Liberation Sans", sans-serif' font-size="7.139999999999999" font-weight="normal" fill="#000" text-anchor="start" textLength="2.8582847999999994" lengthAdjust="spacingAndGlyphs" stroke="#000" stroke-width="0.3">0</text>
<text x="59.400000000000006" y="238.1" font-family='"Liberation Sans", sans-serif' font-size="10.2" font-weight="normal" fill="#000" text-anchor="end" textLength="5.7" lengthAdjust="spacingAndGlyphs" stroke="#000" stroke-width="0.3">10</text>
<text x="60.300000000000004" y="233.9" font-family='"Liberation Sans", sans-serif' font-size="7.139999999999999" font-weight="normal" fill="#000" text-anchor="start" textLength="2.8582847999999994" lengthAdjust="spacingAndGlyphs" stroke="#000" stroke-width="0.3">1</text>
<text x="82.8" y="238.1" font-family='"Liberation Sans", sans-serif' font-size="10.2" font-weight="normal" fill="#000" text-anchor="end" textLength="5.7" lengthAdjust="spacingAndGlyphs" stroke="#000" stroke-width="0.3">10</text>
<text x="83.7" y="233.9" font-family='"Liberation Sans", sans-serif' font-size="7.139999999999999" font-weight="normal" fill="#000" text-anchor="start" textLength="2.8582847999999994" lengthAdjust="spacingAndGlyphs" stroke="#000" stroke-width="0.3">2</text>
<text x="106.2" y="238.1" font-family='"Liberation Sans", sans-serif' font-size="10.2" font-weight="normal" fill="#000" text-anchor="end" textLength="5.7" lengthAdjust="spacingAndGlyphs" stroke="#000" stroke-width="0.3">10</text>
<text x="107.10000000000001" y="233.9" font-family='"Liberation Sans", sans-serif' font-size="7.139999999999999" font-weight="normal" fill="#000" text-anchor="start" textLength="2.8582847999999994" lengthAdjust="spacingAndGlyphs" stroke="#000" stroke-width="0.3">3</text>
<text x="129.60000000000002" y="238.1" font-family='"Liberation Sans", sans-serif' font-size="10.2" font-weight="normal" fill="#000" text-anchor="end" textLength="5.7" lengthAdjust="spacingAndGlyphs" stroke="#000" stroke-width="0.3">10</text>
<text x="130.50000000000003" y="233.9" font-family='"Liberation Sans", sans-serif' font-size="7.139999999999999" font-weight="normal" fill="#000" text-anchor="start" textLength="2.8582847999999994" lengthAdjust="spacingAndGlyphs" stroke="#000" stroke-width="0.3">4</text>
<path fill="#5f5f5f" d="M157 195h1v1h-1zM159 195h2v1h-2zM162 195h2v1h-2zM165 195h1v1h-1zM167 195h1v1h-1zM204 195h1v1h-1zM156 196h5v1h-5zM162 196h1v1h-1zM165 196h1v1h-1zM167 196h1v1h-1zM194 196h1v1h-1zM199 196h1v1h-1zM156 197h7v1h-7zM164 197h1v1h-1zM167 197h1v1h-1zM193 197h1v1h-1zM195 197h1v1h-1zM197 197h1v1h-1zM202 197h2v1h-2zM156 198h10v1h-10zM168 198h1v1h-1zM195 198h2v1h-2zM202 198h1v1h-1zM156 199h8v1h-8zM165 199h1v1h-1zM190 199h1v1h-1zM194 199h4v1h-4zM199 199h1v1h-1zM201 199h4v1h-4zM156 200h12v1h-12zM193 200h2v1h-2zM196 200h4v1h-4zM202 200h2v1h-2zM205 200h1v1h-1zM208 200h1v1h-1zM156 201h11v1h-11zM169 201h1v1h-1zM189 201h1v1h-1zM191 201h1v1h-1zM197 201h1v1h-1zM199 201h1v1h-1zM201 201h5v1h-5zM207 201h1v1h-1zM156 202h11v1h-11zM185 202h1v1h-1zM191 202h2v1h-2zM194 202h11v1h-11zM206 202h2v1h-2zM156 203h12v1h-12zM169 203h1v1h-1zM192 203h3v1h-3zM196 203h10v1h-10zM156 204h10v1h-10zM167 204h4v1h-4zM190 204h2v1h-2zM193 204h13v1h-13zM207 204h1v1h-1zM211 204h1v1h-1zM156 205h11v1h-11zM168 205h1v1h-1zM170 205h1v1h-1zM173 205h1v1h-1zM191 205h15v1h-15zM156 206h14v1h-14zM187 206h1v1h-1zM189 206h1v1h-1zM191 206h2v1h-2zM194 206h11v1h-11zM156 207h12v1h-12zM169 207h2v1h-2zM190 207h1v1h-1zM192 207h17v1h-17zM156 208h13v1h-13zM170 208h1v1h-1zM191 208h17v1h-17zM209 208h2v1h-2zM156 209h9v1h-9zM166 209h2v1h-2zM169 209h1v1h-1zM172 209h1v1h-1zM190 209h1v1h-1zM192 209h15v1h-15zM208 209h1v1h-1zM212 209h1v1h-1zM156 210h13v1h-13zM184 210h1v1h-1zM187 210h20v1h-20zM208 210h1v1h-1zM156 211h12v1h-12zM169 211h1v1h-1zM188 211h1v1h-1zM191 211h17v1h-17zM209 211h1v1h-1zM156 212h14v1h-14zM189 212h21v1h-21zM156 213h14v1h-14zM172 213h1v1h-1zM189 213h20v1h-20zM210 213h1v1h-1zM156 214h12v1h-12zM169 214h2v1h-2zM188 214h1v1h-1zM191 214h19v1h-19zM156 215h14v1h-14zM186 215h1v1h-1zM189 215h19v1h-19zM209 215h1v1h-1zM211 215h2v1h-2zM156 216h12v1h-12zM169 216h1v1h-1zM187 216h1v1h-1zM190 216h1v1h-1zM193 216h16v1h-16zM156 217h13v1h-13zM171 217h1v1h-1zM188 217h1v1h-1zM190 217h16v1h-16zM207 217h4v1h-4zM156 218h13v1h-13zM189 218h19v1h-19zM210 218h1v1h-1zM156 219h13v1h-13zM188 219h1v1h-1zM190 219h4v1h-4zM195 219h14v1h-14zM156 220h11v1h-11zM168 220h2v1h-2zM185 220h1v1h-1zM187 220h1v1h-1zM191 220h15v1h-15zM207 220h1v1h-1zM212 220h1v1h-1zM156 221h10v1h-10zM168 221h1v1h-1zM189 221h10v1h-10zM200 221h9v1h-9zM210 221h1v1h-1zM156 222h12v1h-12zM192 222h1v1h-1zM194 222h12v1h-12zM207 222h1v1h-1z"/>
<path fill="#7a7a7a" d="M182 142h1v1h-1zM166 144h1v1h-1zM193 144h1v1h-1zM183 146h1v1h-1zM245 151h1v1h-1zM191 153h1v1h-1zM207 153h1v1h-1zM170 158h1v1h-1zM196 158h1v1h-1zM208 160h1v1h-1zM182 161h1v1h-1zM197 165h1v1h-1zM251 173h1v1h-1zM180 177h1v1h-1zM166 178h1v1h-1zM165 179h1v1h-1zM169 179h1v1h-1zM166 180h1v1h-1zM202 180h1v1h-1zM169 182h1v1h-1zM175 182h1v1h-1zM160 183h1v1h-1zM174 183h1v1h-1zM240 183h1v1h-1zM184 184h1v1h-1zM165 185h1v1h-1zM166 187h1v1h-1zM160 188h1v1h-1zM158 189h1v1h-1zM170 189h1v1h-1zM174 189h1v1h-1zM166 190h1v1h-1zM179 190h1v1h-1zM163 191h1v1h-1zM165 191h1v1h-1zM159 192h1v1h-1zM167 192h1v1h-1zM171 192h1v1h-1zM200 192h1v1h-1zM156 193h1v1h-1zM162 193h1v1h-1zM159 195h1v1h-1zM159 196h1v1h-1zM160 197h3v1h-3zM164 197h1v1h-1zM198 197h1v1h-1zM189 198h1v1h-1zM166 199h1v1h-1zM172 199h1v1h-1zM212 199h1v1h-1zM165 200h1v1h-1zM200 200h1v1h-1zM214 200h1v1h-1zM167 201h1v1h-1zM198 201h1v1h-1zM159 202h1v1h-1zM163 202h1v1h-1zM165 202h1v1h-1zM199 202h1v1h-1zM206 202h1v1h-1zM210 202h1v1h-1zM206 203h1v1h-1zM156 204h1v1h-1zM191 204h1v1h-1zM195 204h1v1h-1zM199 204h1v1h-1zM161 205h1v1h-1zM196 205h1v1h-1zM213 205h1v1h-1zM161 206h1v1h-1zM190 206h1v1h-1zM196 206h1v1h-1zM203 206h2v1h-2zM159 207h2v1h-2zM193 207h1v1h-1zM195 207h1v1h-1zM200 207h2v1h-2zM206 207h1v1h-1zM210 207h1v1h-1zM163 208h1v1h-1zM198 208h1v1h-1zM202 208h2v1h-2zM208 208h1v1h-1zM168 209h1v1h-1zM193 209h1v1h-1zM197 209h2v1h-2zM201 209h4v1h-4zM214 209h2v1h-2zM234 209h1v1h-1zM176 210h1v1h-1zM185 210h1v1h-1zM196 210h2v1h-2zM199 210h1v1h-1zM203 210h1v1h-1zM208 210h1v1h-1zM211 210h1v1h-1zM213 210h1v1h-1zM219 210h1v1h-1zM159 211h1v1h-1zM201 211h2v1h-2zM204 211h2v1h-2zM189 212h1v1h-1zM194 212h1v1h-1zM198 212h1v1h-1zM201 212h2v1h-2zM208 212h1v1h-1zM200 214h1v1h-1zM210 214h1v1h-1zM213 214h1v1h-1zM201 215h1v1h-1zM214 215h1v1h-1zM216 215h1v1h-1zM227 215h1v1h-1zM195 216h1v1h-1zM197 216h1v1h-1zM202 217h1v1h-1zM211 217h1v1h-1zM188 218h1v1h-1zM196 218h1v1h-1zM200 218h1v1h-1zM207 218h1v1h-1zM209 218h1v1h-1zM212 218h1v1h-1zM189 219h1v1h-1zM195 219h1v1h-1zM206 219h1v1h-1zM220 219h1v1h-1zM199 220h1v1h-1zM202 220h1v1h-1zM205 221h1v1h-1zM208 221h1v1h-1zM212 221h1v1h-1zM214 221h1v1h-1zM205 222h1v1h-1zM207 222h1v1h-1zM214 222h1v1h-1z"/>
<path fill="#8a8a8a" d="M160 198h1v1h-1zM161 200h1v1h-1zM163 202h1v1h-1zM158 203h1v1h-1zM159 204h1v1h-1zM197 204h1v1h-1zM160 205h1v1h-1zM163 205h1v1h-1zM197 205h1v1h-1zM158 206h1v1h-1zM161 206h1v1h-1zM189 206h1v1h-1zM159 208h1v1h-1zM201 208h1v1h-1zM158 209h1v1h-1zM202 209h1v1h-1zM157 210h3v1h-3zM162 210h2v1h-2zM158 211h1v1h-1zM195 211h1v1h-1zM198 211h1v1h-1zM200 211h1v1h-1zM188 212h1v1h-1zM195 212h2v1h-2zM201 212h1v1h-1zM203 212h1v1h-1zM205 212h1v1h-1zM159 213h1v1h-1zM161 213h1v1h-1zM206 214h1v1h-1zM156 215h1v1h-1zM196 215h1v1h-1zM209 216h1v1h-1zM160 217h1v1h-1zM158 218h1v1h-1zM162 218h1v1h-1zM198 218h2v1h-2zM205 218h1v1h-1zM200 219h1v1h-1zM204 219h1v1h-1zM160 220h1v1h-1zM163 220h1v1h-1zM198 220h2v1h-2zM200 221h1v1h-1zM208 221h1v1h-1zM198 222h1v1h-1z"/>
<line x1="154.6" y1="141.0" x2="260.6" y2="141.0" stroke="#222" stroke-width="1.1" />
<line x1="260.6" y1="141.0" x2="260.6" y2="224.4" stroke="#222" stroke-width="1.1" />
<line x1="177.5" y1="141.0" x2="177.5" y2="224.4" stroke="#222" stroke-width="1.1" />
<line x1="154.6" y1="194.5" x2="260.6" y2="194.5" stroke="#222" stroke-width="1.1" />
<line x1="152.4" y1="224.4" x2="154.6" y2="224.4" stroke="#000" stroke-width="0.8" />
<line x1="153.29999999999998" y1="218.123524590406" x2="154.6" y2="218.123524590406" stroke="#000" stroke-width="0.8" />
<line x1="153.29999999999998" y1="214.45202183909504" x2="154.6" y2="214.45202183909504" stroke="#000" stroke-width="0.8" />
<line x1="153.29999999999998" y1="211.84704918081198" x2="154.6" y2="211.84704918081198" stroke="#000" stroke-width="0.8" />
<line x1="153.29999999999998" y1="209.82647540959402" x2="154.6" y2="209.82647540959402" stroke="#000" stroke-width="0.8" />
<line x1="153.29999999999998" y1="208.17554642950103" x2="154.6" y2="208.17554642950103" stroke="#000" stroke-width="0.8" />
<line x1="153.29999999999998" y1="206.77970586570274" x2="154.6" y2="206.77970586570274" stroke="#000" stroke-width="0.8" />
<line x1="153.29999999999998" y1="205.570573771218" x2="154.6" y2="205.570573771218" stroke="#000" stroke-width="0.8" />
<line x1="153.29999999999998" y1="204.50404367819007" x2="154.6" y2="204.50404367819007" stroke="#000" stroke-width="0.8" />
<line x1="152.4" y1="203.55" x2="154.6" y2="203.55" stroke="#000" stroke-width="0.8" />
<line x1="153.29999999999998" y1="197.273524590406" x2="154.6" y2="197.273524590406" stroke="#000" stroke-width="0.8" />
<line x1="153.29999999999998" y1="193.60202183909504" x2="154.6" y2="193.60202183909504" stroke="#000" stroke-width="0.8" />
<line x1="153.29999999999998" y1="190.99704918081198" x2="154.6" y2="190.99704918081198" stroke="#000" stroke-width="0.8" />
<line x1="153.29999999999998" y1="188.976475409594" x2="154.6" y2="188.976475409594" stroke="#000" stroke-width="0.8" />
<line x1="153.29999999999998" y1="187.32554642950103" x2="154.6" y2="187.32554642950103" stroke="#000" stroke-width="0.8" />
<line x1="153.29999999999998" y1="185.92970586570274" x2="154.6" y2="185.92970586570274" stroke="#000" stroke-width="0.8" />
<line x1="153.29999999999998" y1="184.72057377121797" x2="154.6" y2="184.72057377121797" stroke="#000" stroke-width="0.8" />
<line x1="153.29999999999998" y1="183.65404367819008" x2="154.6" y2="183.65404367819008" stroke="#000" stroke-width="0.8" />
<line x1="152.4" y1="182.7" x2="154.6" y2="182.7" stroke="#000" stroke-width="0.8" />
<line x1="153.29999999999998" y1="176.423524590406" x2="154.6" y2="176.423524590406" stroke="#000" stroke-width="0.8" />
<line x1="153.29999999999998" y1="172.75202183909505" x2="154.6" y2="172.75202183909505" stroke="#000" stroke-width="0.8" />
<line x1="153.29999999999998" y1="170.147049180812" x2="154.6" y2="170.147049180812" stroke="#000" stroke-width="0.8" />
<line x1="153.29999999999998" y1="168.126475409594" x2="154.6" y2="168.126475409594" stroke="#000" stroke-width="0.8" />
<line x1="153.29999999999998" y1="166.47554642950104" x2="154.6" y2="166.47554642950104" stroke="#000" stroke-width="0.8" />
<line x1="153.29999999999998" y1="165.07970586570275" x2="154.6" y2="165.07970586570275" stroke="#000" stroke-width="0.8" />
<line x1="153.29999999999998" y1="163.87057377121798" x2="154.6" y2="163.87057377121798" stroke="#000" stroke-width="0.8" />
<line x1="153.29999999999998" y1="162.80404367819008" x2="154.6" y2="162.80404367819008" stroke="#000" stroke-width="0.8" />
<line x1="152.4" y1="161.85" x2="154.6" y2="161.85" stroke="#000" stroke-width="0.8" />
<line x1="153.29999999999998" y1="155.573524590406" x2="154.6" y2="155.573524590406" stroke="#000" stroke-width="0.8" />
<line x1="153.29999999999998" y1="151.90202183909503" x2="154.6" y2="151.90202183909503" stroke="#000" stroke-width="0.8" />
<line x1="153.29999999999998" y1="149.297049180812" x2="154.6" y2="149.297049180812" stroke="#000" stroke-width="0.8" />
<line x1="153.29999999999998" y1="147.276475409594" x2="154.6" y2="147.276475409594" stroke="#000" stroke-width="0.8" />
<line x1="153.29999999999998" y1="145.62554642950101" x2="154.6" y2="145.62554642950101" stroke="#000" stroke-width="0.8" />
<line x1="153.29999999999998" y1="144.22970586570273" x2="154.6" y2="144.22970586570273" stroke="#000" stroke-width="0.8" />
<line x1="153.29999999999998" y1="143.02057377121798" x2="154.6" y2="143.02057377121798" stroke="#000" stroke-width="0.8" />
<line x1="153.29999999999998" y1="141.9540436781901" x2="154.6" y2="141.9540436781901" stroke="#000" stroke-width="0.8" />
<line x1="152.4" y1="141.0" x2="154.6" y2="141.0" stroke="#000" stroke-width="0.8" />
<line x1="154.6" y1="224.4" x2="154.6" y2="226.6" stroke="#000" stroke-width="0.8" />
<line x1="162.5772948850955" y1="224.4" x2="162.5772948850955" y2="225.70000000000002" stroke="#000" stroke-width="0.8" />
<line x1="167.24371325007104" y1="224.4" x2="167.24371325007104" y2="225.70000000000002" stroke="#000" stroke-width="0.8" />
<line x1="170.554589770191" y1="224.4" x2="170.554589770191" y2="225.70000000000002" stroke="#000" stroke-width="0.8" />
<line x1="173.1227051149045" y1="224.4" x2="173.1227051149045" y2="225.70000000000002" stroke="#000" stroke-width="0.8" />
<line x1="175.22100813516656" y1="224.4" x2="175.22100813516656" y2="225.70000000000002" stroke="#000" stroke-width="0.8" />
<line x1="176.9950980603778" y1="224.4" x2="176.9950980603778" y2="225.70000000000002" stroke="#000" stroke-width="0.8" />
<line x1="178.5318846552865" y1="224.4" x2="178.5318846552865" y2="225.70000000000002" stroke="#000" stroke-width="0.8" />
<line x1="179.8874265001421" y1="224.4" x2="179.8874265001421" y2="225.70000000000002" stroke="#000" stroke-width="0.8" />
<line x1="181.1" y1="224.4" x2="181.1" y2="226.6" stroke="#000" stroke-width="0.8" />
<line x1="189.0772948850955" y1="224.4" x2="189.0772948850955" y2="225.70000000000002" stroke="#000" stroke-width="0.8" />
<line x1="193.74371325007107" y1="224.4" x2="193.74371325007107" y2="225.70000000000002" stroke="#000" stroke-width="0.8" />
<line x1="197.054589770191" y1="224.4" x2="197.054589770191" y2="225.70000000000002" stroke="#000" stroke-width="0.8" />
<line x1="199.6227051149045" y1="224.4" x2="199.6227051149045" y2="225.70000000000002" stroke="#000" stroke-width="0.8" />
<line x1="201.72100813516656" y1="224.4" x2="201.72100813516656" y2="225.70000000000002" stroke="#000" stroke-width="0.8" />
<line x1="203.4950980603778" y1="224.4" x2="203.4950980603778" y2="225.70000000000002" stroke="#000" stroke-width="0.8" />
<line x1="205.03188465528652" y1="224.4" x2="205.03188465528652" y2="225.70000000000002" stroke="#000" stroke-width="0.8" />
<line x1="206.3874265001421" y1="224.4" x2="206.3874265001421" y2="225.70000000000002" stroke="#000" stroke-width="0.8" />
<line x1="207.60000000000002" y1="224.4" x2="207.60000000000002" y2="226.6" stroke="#000" stroke-width="0.8" />
<line x1="215.5772948850955" y1="224.4" x2="215.5772948850955" y2="225.70000000000002" stroke="#000" stroke-width="0.8" />
<line x1="220.24371325007107" y1="224.4" x2="220.24371325007107" y2="225.70000000000002" stroke="#000" stroke-width="0.8" />
<line x1="223.554589770191" y1="224.4" x2="223.554589770191" y2="225.70000000000002" stroke="#000" stroke-width="0.8" />
<line x1="226.1227051149045" y1="224.4" x2="226.1227051149045" y2="225.70000000000002" stroke="#000" stroke-width="0.8" />
<line x1="228.22100813516658" y1="224.4" x2="228.22100813516658" y2="225.70000000000002" stroke="#000" stroke-width="0.8" />
<line x1="229.9950980603778" y1="224.4" x2="229.9950980603778" y2="225.70000000000002" stroke="#000" stroke-width="0.8" />
<line x1="231.53188465528652" y1="224.4" x2="231.53188465528652" y2="225.70000000000002" stroke="#000" stroke-width="0.8" />
<line x1="232.8874265001421" y1="224.4" x2="232.8874265001421" y2="225.70000000000002" stroke="#000" stroke-width="0.8" />
<line x1="234.10000000000002" y1="224.4" x2="234.10000000000002" y2="226.6" stroke="#000" stroke-width="0.8" />
<line x1="242.0772948850955" y1="224.4" x2="242.0772948850955" y2="225.70000000000002" stroke="#000" stroke-width="0.8" />
<line x1="246.7437132500711" y1="224.4" x2="246.7437132500711" y2="225.70000000000002" stroke="#000" stroke-width="0.8" />
<line x1="250.05458977019103" y1="224.4" x2="250.05458977019103" y2="225.70000000000002" stroke="#000" stroke-width="0.8" />
<line x1="252.62270511490453" y1="224.4" x2="252.62270511490453" y2="225.70000000000002" stroke="#000" stroke-width="0.8" />
<line x1="254.72100813516658" y1="224.4" x2="254.72100813516658" y2="225.70000000000002" stroke="#000" stroke-width="0.8" />
<line x1="256.4950980603778" y1="224.4" x2="256.4950980603778" y2="225.70000000000002" stroke="#000" stroke-width="0.8" />
<line x1="258.03188465528655" y1="224.4" x2="258.03188465528655" y2="225.70000000000002" stroke="#000" stroke-width="0.8" />
<line x1="259.3874265001421" y1="224.4" x2="259.3874265001421" y2="225.70000000000002" stroke="#000" stroke-width="0.8" />
<line x1="260.6" y1="224.4" x2="260.6" y2="226.6" stroke="#000" stroke-width="0.8" />
<line x1="154.6" y1="140.5" x2="154.6" y2="224.9" stroke="#000" stroke-width="1.2" />
<line x1="154.1" y1="224.4" x2="261.1" y2="224.4" stroke="#000" stroke-width="1.2" />
<g transform="translate(149.30,224.40) scale(0.85,1) rotate(-90)" fill="#000" font-family='"Liberation Sans", sans-serif' stroke="#000" stroke-width="0.3"><text x="-7.80" y="0" font-size="8" textLength="9" lengthAdjust="spacingAndGlyphs">10</text><text x="1.40" y="-4.96" font-size="6.40">0</text></g>
<g transform="translate(149.30,203.55) scale(0.85,1) rotate(-90)" fill="#000" font-family='"Liberation Sans", sans-serif' stroke="#000" stroke-width="0.3"><text x="-7.80" y="0" font-size="8" textLength="9" lengthAdjust="spacingAndGlyphs">10</text><text x="1.40" y="-4.96" font-size="6.40">1</text></g>
<g transform="translate(149.30,182.70) scale(0.85,1) rotate(-90)" fill="#000" font-family='"Liberation Sans", sans-serif' stroke="#000" stroke-width="0.3"><text x="-7.80" y="0" font-size="8" textLength="9" lengthAdjust="spacingAndGlyphs">10</text><text x="1.40" y="-4.96" font-size="6.40">2</text></g>
<g transform="translate(149.30,161.85) scale(0.85,1) rotate(-90)" fill="#000" font-family='"Liberation Sans", sans-serif' stroke="#000" stroke-width="0.3"><text x="-7.80" y="0" font-size="8" textLength="9" lengthAdjust="spacingAndGlyphs">10</text><text x="1.40" y="-4.96" font-size="6.40">3</text></g>
<g transform="translate(149.30,141.00) scale(0.85,1) rotate(-90)" fill="#000" font-family='"Liberation Sans", sans-serif' stroke="#000" stroke-width="0.3"><text x="-7.80" y="0" font-size="8" textLength="9" lengthAdjust="spacingAndGlyphs">10</text><text x="1.40" y="-4.96" font-size="6.40">4</text></g>
<text x="155.4" y="237.5" font-family='"Liberation Sans", sans-serif' font-size="10.2" font-weight="normal" fill="#000" text-anchor="end" textLength="5.7" lengthAdjust="spacingAndGlyphs" stroke="#000" stroke-width="0.3">10</text>
<text x="156.3" y="233.3" font-family='"Liberation Sans", sans-serif' font-size="7.139999999999999" font-weight="normal" fill="#000" text-anchor="start" textLength="2.8582847999999994" lengthAdjust="spacingAndGlyphs" stroke="#000" stroke-width="0.3">0</text>
<text x="181.9" y="237.5" font-family='"Liberation Sans", sans-serif' font-size="10.2" font-weight="normal" fill="#000" text-anchor="end" textLength="5.7" lengthAdjust="spacingAndGlyphs" stroke="#000" stroke-width="0.3">10</text>
<text x="182.8" y="233.3" font-family='"Liberation Sans", sans-serif' font-size="7.139999999999999" font-weight="normal" fill="#000" text-anchor="start" textLength="2.8582847999999994" lengthAdjust="spacingAndGlyphs" stroke="#000" stroke-width="0.3">1</text>
<text x="208.40000000000003" y="237.5" font-family='"Liberation Sans", sans-serif' font-size="10.2" font-weight="normal" fill="#000" text-anchor="end" textLength="5.7" lengthAdjust="spacingAndGlyphs" stroke="#000" stroke-width="0.3">10</text>
<text x="209.30000000000004" y="233.3" font-family='"Liberation Sans", sans-serif' font-size="7.139999999999999" font-weight="normal" fill="#000" text-anchor="start" textLength="2.8582847999999994" lengthAdjust="spacingAndGlyphs" stroke="#000" stroke-width="0.3">2</text>
<text x="234.90000000000003" y="237.5" font-family='"Liberation Sans", sans-serif' font-size="10.2" font-weight="normal" fill="#000" text-anchor="end" textLength="5.7" lengthAdjust="spacingAndGlyphs" stroke="#000" stroke-width="0.3">10</text>
<text x="235.80000000000004" y="233.3" font-family='"Liberation Sans", sans-serif' font-size="7.139999999999999" font-weight="normal" fill="#000" text-anchor="start" textLength="2.8582847999999994" lengthAdjust="spacingAndGlyphs" stroke="#000" stroke-width="0.3">3</text>
<text x="261.40000000000003" y="237.5" font-family='"Liberation Sans", sans-serif' font-size="10.2" font-weight="normal" fill="#000" text-anchor="end" textLength="5.7" lengthAdjust="spacingAndGlyphs" stroke="#000" stroke-width="0.3">10</text>
<text x="262.3" y="233.3" font-family='"Liberation Sans", sans-serif' font-size="7.139999999999999" font-weight="normal" fill="#000" text-anchor="start" textLength="2.8582847999999994" lengthAdjust="spacingAndGlyphs" stroke="#000" stroke-width="0.3">4</text>
<path fill="#5f5f5f" d="M284 195h6v1h-6zM291 195h1v1h-1zM293 195h2v1h-2zM319 195h2v1h-2zM285 196h4v1h-4zM290 196h3v1h-3zM295 196h2v1h-2zM321 196h1v1h-1zM328 196h1v1h-1zM284 197h10v1h-10zM297 197h1v1h-1zM320 197h1v1h-1zM323 197h1v1h-1zM330 197h1v1h-1zM284 198h11v1h-11zM296 198h2v1h-2zM317 198h1v1h-1zM319 198h1v1h-1zM321 198h1v1h-1zM324 198h2v1h-2zM332 198h1v1h-1zM284 199h9v1h-9zM297 199h1v1h-1zM299 199h1v1h-1zM318 199h2v1h-2zM324 199h2v1h-2zM327 199h1v1h-1zM284 200h11v1h-11zM318 200h3v1h-3zM322 200h4v1h-4zM327 200h2v1h-2zM284 201h14v1h-14zM320 201h6v1h-6zM327 201h2v1h-2zM330 201h1v1h-1zM284 202h13v1h-13zM315 202h1v1h-1zM319 202h7v1h-7zM327 202h5v1h-5zM284 203h13v1h-13zM298 203h1v1h-1zM315 203h1v1h-1zM317 203h1v1h-1zM319 203h6v1h-6zM326 203h2v1h-2zM330 203h1v1h-1zM333 203h1v1h-1zM284 204h14v1h-14zM318 204h14v1h-14zM334 204h1v1h-1zM284 205h12v1h-12zM297 205h1v1h-1zM313 205h1v1h-1zM317 205h2v1h-2zM320 205h8v1h-8zM330 205h2v1h-2zM284 206h13v1h-13zM315 206h2v1h-2zM318 206h10v1h-10zM329 206h1v1h-1zM331 206h1v1h-1zM335 206h1v1h-1zM284 207h15v1h-15zM315 207h17v1h-17zM284 208h12v1h-12zM297 208h2v1h-2zM311 208h1v1h-1zM314 208h2v1h-2zM317 208h13v1h-13zM331 208h3v1h-3zM284 209h14v1h-14zM314 209h19v1h-19zM284 210h13v1h-13zM298 210h1v1h-1zM312 210h1v1h-1zM316 210h2v1h-2zM319 210h11v1h-11zM331 210h4v1h-4zM337 210h1v1h-1zM284 211h15v1h-15zM316 211h16v1h-16zM284 212h15v1h-15zM314 212h2v1h-2zM317 212h14v1h-14zM332 212h3v1h-3zM284 213h12v1h-12zM297 213h1v1h-1zM311 213h2v1h-2zM314 213h19v1h-19zM334 213h1v1h-1zM338 213h1v1h-1zM284 214h11v1h-11zM296 214h1v1h-1zM315 214h17v1h-17zM333 214h1v1h-1zM284 215h13v1h-13zM298 215h1v1h-1zM314 215h2v1h-2zM317 215h15v1h-15zM333 215h1v1h-1zM337 215h2v1h-2zM284 216h11v1h-11zM297 216h1v1h-1zM302 216h1v1h-1zM309 216h1v1h-1zM314 216h19v1h-19zM334 216h1v1h-1zM284 217h14v1h-14zM311 217h1v1h-1zM314 217h1v1h-1zM316 217h1v1h-1zM318 217h12v1h-12zM337 217h1v1h-1zM284 218h14v1h-14zM299 218h1v1h-1zM312 218h1v1h-1zM314 218h16v1h-16zM331 218h1v1h-1zM334 218h1v1h-1zM336 218h1v1h-1zM284 219h12v1h-12zM314 219h1v1h-1zM316 219h15v1h-15zM333 219h1v1h-1zM335 219h1v1h-1zM284 220h13v1h-13zM315 220h18v1h-18zM284 221h10v1h-10zM296 221h1v1h-1zM298 221h1v1h-1zM315 221h1v1h-1zM317 221h15v1h-15zM333 221h1v1h-1zM284 222h13v1h-13zM298 222h1v1h-1zM317 222h3v1h-3zM321 222h10v1h-10z"/>
<path fill="#7a7a7a" d="M315 143h1v1h-1zM310 146h1v1h-1zM337 147h1v1h-1zM335 148h1v1h-1zM359 152h1v1h-1zM336 154h1v1h-1zM332 156h1v1h-1zM370 165h1v1h-1zM324 167h1v1h-1zM328 172h1v1h-1zM320 177h1v1h-1zM313 179h1v1h-1zM284 180h1v1h-1zM296 181h1v1h-1zM309 181h1v1h-1zM290 182h1v1h-1zM289 183h1v1h-1zM289 184h1v1h-1zM298 184h1v1h-1zM322 184h1v1h-1zM289 185h1v1h-1zM286 186h1v1h-1zM289 187h1v1h-1zM294 187h1v1h-1zM297 188h1v1h-1zM292 189h2v1h-2zM288 190h1v1h-1zM287 191h1v1h-1zM291 191h1v1h-1zM287 193h1v1h-1zM291 193h1v1h-1zM287 194h1v1h-1zM289 194h1v1h-1zM293 194h1v1h-1zM341 194h1v1h-1zM288 196h1v1h-1zM295 196h1v1h-1zM319 196h1v1h-1zM289 197h1v1h-1zM292 198h1v1h-1zM300 198h1v1h-1zM334 198h1v1h-1zM287 199h1v1h-1zM323 199h1v1h-1zM288 200h1v1h-1zM290 200h1v1h-1zM292 200h1v1h-1zM295 200h2v1h-2zM317 201h1v1h-1zM320 201h1v1h-1zM324 201h1v1h-1zM337 201h1v1h-1zM290 202h1v1h-1zM292 202h1v1h-1zM321 202h1v1h-1zM339 202h1v1h-1zM299 203h1v1h-1zM325 203h1v1h-1zM335 204h1v1h-1zM289 205h2v1h-2zM325 205h1v1h-1zM329 205h1v1h-1zM346 205h1v1h-1zM362 205h1v1h-1zM300 206h1v1h-1zM330 206h1v1h-1zM333 206h1v1h-1zM336 206h1v1h-1zM289 207h1v1h-1zM297 207h1v1h-1zM316 207h1v1h-1zM319 207h1v1h-1zM328 207h1v1h-1zM331 207h1v1h-1zM333 207h1v1h-1zM335 207h1v1h-1zM339 207h1v1h-1zM317 208h1v1h-1zM323 208h1v1h-1zM336 208h1v1h-1zM342 208h1v1h-1zM324 209h1v1h-1zM327 209h1v1h-1zM343 209h1v1h-1zM298 210h1v1h-1zM323 210h1v1h-1zM332 210h1v1h-1zM334 210h1v1h-1zM339 210h1v1h-1zM291 211h1v1h-1zM319 211h1v1h-1zM324 211h1v1h-1zM331 211h3v1h-3zM338 211h1v1h-1zM290 212h1v1h-1zM315 212h1v1h-1zM326 212h1v1h-1zM335 212h1v1h-1zM337 212h1v1h-1zM341 212h1v1h-1zM342 213h1v1h-1zM349 213h1v1h-1zM319 214h1v1h-1zM329 214h1v1h-1zM335 214h1v1h-1zM337 214h1v1h-1zM288 215h1v1h-1zM302 215h1v1h-1zM313 215h1v1h-1zM323 215h1v1h-1zM330 215h2v1h-2zM335 215h1v1h-1zM317 216h1v1h-1zM323 216h1v1h-1zM330 216h2v1h-2zM340 216h1v1h-1zM324 217h1v1h-1zM330 217h1v1h-1zM335 217h1v1h-1zM342 217h1v1h-1zM328 218h1v1h-1zM312 219h1v1h-1zM324 219h1v1h-1zM329 219h1v1h-1zM334 219h1v1h-1zM323 220h1v1h-1zM330 220h1v1h-1zM333 220h1v1h-1zM343 220h1v1h-1zM320 221h1v1h-1zM325 222h1v1h-1zM337 222h1v1h-1zM341 222h2v1h-2z"/>
<path fill="#8a8a8a" d="M323 196h1v1h-1zM286 202h1v1h-1zM287 203h1v1h-1zM317 204h1v1h-1zM286 205h1v1h-1zM285 206h1v1h-1zM287 207h1v1h-1zM286 209h1v1h-1zM325 209h1v1h-1zM327 210h1v1h-1zM288 211h1v1h-1zM292 211h1v1h-1zM325 211h1v1h-1zM327 211h1v1h-1zM290 212h2v1h-2zM284 213h1v1h-1zM292 213h1v1h-1zM324 213h1v1h-1zM326 213h1v1h-1zM329 213h1v1h-1zM331 213h1v1h-1zM287 214h1v1h-1zM289 214h1v1h-1zM323 214h1v1h-1zM293 215h1v1h-1zM318 215h1v1h-1zM332 215h1v1h-1zM290 216h1v1h-1zM329 217h1v1h-1zM290 220h1v1h-1zM289 221h1v1h-1z"/>
<line x1="282.5" y1="141.0" x2="383.8" y2="141.0" stroke="#222" stroke-width="1.1" />
<line x1="383.8" y1="141.0" x2="383.8" y2="224.4" stroke="#222" stroke-width="1.1" />
<line x1="303.6" y1="141.0" x2="303.6" y2="224.4" stroke="#222" stroke-width="1.1" />
<line x1="282.5" y1="194.5" x2="383.8" y2="194.5" stroke="#222" stroke-width="1.1" />
<line x1="280.3" y1="224.4" x2="282.5" y2="224.4" stroke="#000" stroke-width="0.8" />
<line x1="281.2" y1="218.123524590406" x2="282.5" y2="218.123524590406" stroke="#000" stroke-width="0.8" />
<line x1="281.2" y1="214.45202183909504" x2="282.5" y2="214.45202183909504" stroke="#000" stroke-width="0.8" />
<line x1="281.2" y1="211.84704918081198" x2="282.5" y2="211.84704918081198" stroke="#000" stroke-width="0.8" />
<line x1="281.2" y1="209.82647540959402" x2="282.5" y2="209.82647540959402" stroke="#000" stroke-width="0.8" />
<line x1="281.2" y1="208.17554642950103" x2="282.5" y2="208.17554642950103" stroke="#000" stroke-width="0.8" />
<line x1="281.2" y1="206.77970586570274" x2="282.5" y2="206.77970586570274" stroke="#000" stroke-width="0.8" />
<line x1="281.2" y1="205.570573771218" x2="282.5" y2="205.570573771218" stroke="#000" stroke-width="0.8" />
<line x1="281.2" y1="204.50404367819007" x2="282.5" y2="204.50404367819007" stroke="#000" stroke-width="0.8" />
<line x1="280.3" y1="203.55" x2="282.5" y2="203.55" stroke="#000" stroke-width="0.8" />
<line x1="281.2" y1="197.273524590406" x2="282.5" y2="197.273524590406" stroke="#000" stroke-width="0.8" />
<line x1="281.2" y1="193.60202183909504" x2="282.5" y2="193.60202183909504" stroke="#000" stroke-width="0.8" />
<line x1="281.2" y1="190.99704918081198" x2="282.5" y2="190.99704918081198" stroke="#000" stroke-width="0.8" />
<line x1="281.2" y1="188.976475409594" x2="282.5" y2="188.976475409594" stroke="#000" stroke-width="0.8" />
<line x1="281.2" y1="187.32554642950103" x2="282.5" y2="187.32554642950103" stroke="#000" stroke-width="0.8" />
<line x1="281.2" y1="185.92970586570274" x2="282.5" y2="185.92970586570274" stroke="#000" stroke-width="0.8" />
<line x1="281.2" y1="184.72057377121797" x2="282.5" y2="184.72057377121797" stroke="#000" stroke-width="0.8" />
<line x1="281.2" y1="183.65404367819008" x2="282.5" y2="183.65404367819008" stroke="#000" stroke-width="0.8" />
<line x1="280.3" y1="182.7" x2="282.5" y2="182.7" stroke="#000" stroke-width="0.8" />
<line x1="281.2" y1="176.423524590406" x2="282.5" y2="176.423524590406" stroke="#000" stroke-width="0.8" />
<line x1="281.2" y1="172.75202183909505" x2="282.5" y2="172.75202183909505" stroke="#000" stroke-width="0.8" />
<line x1="281.2" y1="170.147049180812" x2="282.5" y2="170.147049180812" stroke="#000" stroke-width="0.8" />
<line x1="281.2" y1="168.126475409594" x2="282.5" y2="168.126475409594" stroke="#000" stroke-width="0.8" />
<line x1="281.2" y1="166.47554642950104" x2="282.5" y2="166.47554642950104" stroke="#000" stroke-width="0.8" />
<line x1="281.2" y1="165.07970586570275" x2="282.5" y2="165.07970586570275" stroke="#000" stroke-width="0.8" />
<line x1="281.2" y1="163.87057377121798" x2="282.5" y2="163.87057377121798" stroke="#000" stroke-width="0.8" />
<line x1="281.2" y1="162.80404367819008" x2="282.5" y2="162.80404367819008" stroke="#000" stroke-width="0.8" />
<line x1="280.3" y1="161.85" x2="282.5" y2="161.85" stroke="#000" stroke-width="0.8" />
<line x1="281.2" y1="155.573524590406" x2="282.5" y2="155.573524590406" stroke="#000" stroke-width="0.8" />
<line x1="281.2" y1="151.90202183909503" x2="282.5" y2="151.90202183909503" stroke="#000" stroke-width="0.8" />
<line x1="281.2" y1="149.297049180812" x2="282.5" y2="149.297049180812" stroke="#000" stroke-width="0.8" />
<line x1="281.2" y1="147.276475409594" x2="282.5" y2="147.276475409594" stroke="#000" stroke-width="0.8" />
<line x1="281.2" y1="145.62554642950101" x2="282.5" y2="145.62554642950101" stroke="#000" stroke-width="0.8" />
<line x1="281.2" y1="144.22970586570273" x2="282.5" y2="144.22970586570273" stroke="#000" stroke-width="0.8" />
<line x1="281.2" y1="143.02057377121798" x2="282.5" y2="143.02057377121798" stroke="#000" stroke-width="0.8" />
<line x1="281.2" y1="141.9540436781901" x2="282.5" y2="141.9540436781901" stroke="#000" stroke-width="0.8" />
<line x1="280.3" y1="141.0" x2="282.5" y2="141.0" stroke="#000" stroke-width="0.8" />
<line x1="282.5" y1="224.4" x2="282.5" y2="226.6" stroke="#000" stroke-width="0.8" />
<line x1="290.1235846401903" y1="224.4" x2="290.1235846401903" y2="225.70000000000002" stroke="#000" stroke-width="0.8" />
<line x1="294.58309577577546" y1="224.4" x2="294.58309577577546" y2="225.70000000000002" stroke="#000" stroke-width="0.8" />
<line x1="297.74716928038066" y1="224.4" x2="297.74716928038066" y2="225.70000000000002" stroke="#000" stroke-width="0.8" />
<line x1="300.2014153598097" y1="224.4" x2="300.2014153598097" y2="225.70000000000002" stroke="#000" stroke-width="0.8" />
<line x1="302.20668041596576" y1="224.4" x2="302.20668041596576" y2="225.70000000000002" stroke="#000" stroke-width="0.8" />
<line x1="303.90210786336104" y1="224.4" x2="303.90210786336104" y2="225.70000000000002" stroke="#000" stroke-width="0.8" />
<line x1="305.37075392057096" y1="224.4" x2="305.37075392057096" y2="225.70000000000002" stroke="#000" stroke-width="0.8" />
<line x1="306.6661915515509" y1="224.4" x2="306.6661915515509" y2="225.70000000000002" stroke="#000" stroke-width="0.8" />
<line x1="307.825" y1="224.4" x2="307.825" y2="226.6" stroke="#000" stroke-width="0.8" />
<line x1="315.44858464019035" y1="224.4" x2="315.44858464019035" y2="225.70000000000002" stroke="#000" stroke-width="0.8" />
<line x1="319.90809577577545" y1="224.4" x2="319.90809577577545" y2="225.70000000000002" stroke="#000" stroke-width="0.8" />
<line x1="323.07216928038065" y1="224.4" x2="323.07216928038065" y2="225.70000000000002" stroke="#000" stroke-width="0.8" />
<line x1="325.5264153598097" y1="224.4" x2="325.5264153598097" y2="225.70000000000002" stroke="#000" stroke-width="0.8" />
<line x1="327.53168041596575" y1="224.4" x2="327.53168041596575" y2="225.70000000000002" stroke="#000" stroke-width="0.8" />
<line x1="329.2271078633611" y1="224.4" x2="329.2271078633611" y2="225.70000000000002" stroke="#000" stroke-width="0.8" />
<line x1="330.69575392057095" y1="224.4" x2="330.69575392057095" y2="225.70000000000002" stroke="#000" stroke-width="0.8" />
<line x1="331.9911915515509" y1="224.4" x2="331.9911915515509" y2="225.70000000000002" stroke="#000" stroke-width="0.8" />
<line x1="333.15" y1="224.4" x2="333.15" y2="226.6" stroke="#000" stroke-width="0.8" />
<line x1="340.77358464019034" y1="224.4" x2="340.77358464019034" y2="225.70000000000002" stroke="#000" stroke-width="0.8" />
<line x1="345.23309577577544" y1="224.4" x2="345.23309577577544" y2="225.70000000000002" stroke="#000" stroke-width="0.8" />
<line x1="348.39716928038064" y1="224.4" x2="348.39716928038064" y2="225.70000000000002" stroke="#000" stroke-width="0.8" />
<line x1="350.85141535980966" y1="224.4" x2="350.85141535980966" y2="225.70000000000002" stroke="#000" stroke-width="0.8" />
<line x1="352.8566804159658" y1="224.4" x2="352.8566804159658" y2="225.70000000000002" stroke="#000" stroke-width="0.8" />
<line x1="354.5521078633611" y1="224.4" x2="354.5521078633611" y2="225.70000000000002" stroke="#000" stroke-width="0.8" />
<line x1="356.020753920571" y1="224.4" x2="356.020753920571" y2="225.70000000000002" stroke="#000" stroke-width="0.8" />
<line x1="357.3161915515509" y1="224.4" x2="357.3161915515509" y2="225.70000000000002" stroke="#000" stroke-width="0.8" />
<line x1="358.475" y1="224.4" x2="358.475" y2="226.6" stroke="#000" stroke-width="0.8" />
<line x1="366.0985846401903" y1="224.4" x2="366.0985846401903" y2="225.70000000000002" stroke="#000" stroke-width="0.8" />
<line x1="370.5580957757755" y1="224.4" x2="370.5580957757755" y2="225.70000000000002" stroke="#000" stroke-width="0.8" />
<line x1="373.7221692803806" y1="224.4" x2="373.7221692803806" y2="225.70000000000002" stroke="#000" stroke-width="0.8" />
<line x1="376.17641535980965" y1="224.4" x2="376.17641535980965" y2="225.70000000000002" stroke="#000" stroke-width="0.8" />
<line x1="378.1816804159658" y1="224.4" x2="378.1816804159658" y2="225.70000000000002" stroke="#000" stroke-width="0.8" />
<line x1="379.87710786336106" y1="224.4" x2="379.87710786336106" y2="225.70000000000002" stroke="#000" stroke-width="0.8" />
<line x1="381.345753920571" y1="224.4" x2="381.345753920571" y2="225.70000000000002" stroke="#000" stroke-width="0.8" />
<line x1="382.6411915515509" y1="224.4" x2="382.6411915515509" y2="225.70000000000002" stroke="#000" stroke-width="0.8" />
<line x1="383.8" y1="224.4" x2="383.8" y2="226.6" stroke="#000" stroke-width="0.8" />
<line x1="282.5" y1="140.5" x2="282.5" y2="224.9" stroke="#000" stroke-width="1.2" />
<line x1="282.0" y1="224.4" x2="384.3" y2="224.4" stroke="#000" stroke-width="1.2" />
<g transform="translate(277.20,224.40) scale(0.85,1) rotate(-90)" fill="#000" font-family='"Liberation Sans", sans-serif' stroke="#000" stroke-width="0.3"><text x="-7.80" y="0" font-size="8" textLength="9" lengthAdjust="spacingAndGlyphs">10</text><text x="1.40" y="-4.96" font-size="6.40">0</text></g>
<g transform="translate(277.20,203.55) scale(0.85,1) rotate(-90)" fill="#000" font-family='"Liberation Sans", sans-serif' stroke="#000" stroke-width="0.3"><text x="-7.80" y="0" font-size="8" textLength="9" lengthAdjust="spacingAndGlyphs">10</text><text x="1.40" y="-4.96" font-size="6.40">1</text></g>
<g transform="translate(277.20,182.70) scale(0.85,1) rotate(-90)" fill="#000" font-family='"Liberation Sans", sans-serif' stroke="#000" stroke-width="0.3"><text x="-7.80" y="0" font-size="8" textLength="9" lengthAdjust="spacingAndGlyphs">10</text><text x="1.40" y="-4.96" font-size="6.40">2</text></g>
<g transform="translate(277.20,161.85) scale(0.85,1) rotate(-90)" fill="#000" font-family='"Liberation Sans", sans-serif' stroke="#000" stroke-width="0.3"><text x="-7.80" y="0" font-size="8" textLength="9" lengthAdjust="spacingAndGlyphs">10</text><text x="1.40" y="-4.96" font-size="6.40">3</text></g>
<g transform="translate(277.20,141.00) scale(0.85,1) rotate(-90)" fill="#000" font-family='"Liberation Sans", sans-serif' stroke="#000" stroke-width="0.3"><text x="-7.80" y="0" font-size="8" textLength="9" lengthAdjust="spacingAndGlyphs">10</text><text x="1.40" y="-4.96" font-size="6.40">4</text></g>
<text x="283.3" y="237.5" font-family='"Liberation Sans", sans-serif' font-size="10.2" font-weight="normal" fill="#000" text-anchor="end" textLength="5.7" lengthAdjust="spacingAndGlyphs" stroke="#000" stroke-width="0.3">10</text>
<text x="284.2" y="233.3" font-family='"Liberation Sans", sans-serif' font-size="7.139999999999999" font-weight="normal" fill="#000" text-anchor="start" textLength="2.8582847999999994" lengthAdjust="spacingAndGlyphs" stroke="#000" stroke-width="0.3">0</text>
<text x="308.625" y="237.5" font-family='"Liberation Sans", sans-serif' font-size="10.2" font-weight="normal" fill="#000" text-anchor="end" textLength="5.7" lengthAdjust="spacingAndGlyphs" stroke="#000" stroke-width="0.3">10</text>
<text x="309.525" y="233.3" font-family='"Liberation Sans", sans-serif' font-size="7.139999999999999" font-weight="normal" fill="#000" text-anchor="start" textLength="2.8582847999999994" lengthAdjust="spacingAndGlyphs" stroke="#000" stroke-width="0.3">1</text>
<text x="333.95" y="237.5" font-family='"Liberation Sans", sans-serif' font-size="10.2" font-weight="normal" fill="#000" text-anchor="end" textLength="5.7" lengthAdjust="spacingAndGlyphs" stroke="#000" stroke-width="0.3">10</text>
<text x="334.84999999999997" y="233.3" font-family='"Liberation Sans", sans-serif' font-size="7.139999999999999" font-weight="normal" fill="#000" text-anchor="start" textLength="2.8582847999999994" lengthAdjust="spacingAndGlyphs" stroke="#000" stroke-width="0.3">2</text>
<text x="359.27500000000003" y="237.5" font-family='"Liberation Sans", sans-serif' font-size="10.2" font-weight="normal" fill="#000" text-anchor="end" textLength="5.7" lengthAdjust="spacingAndGlyphs" stroke="#000" stroke-width="0.3">10</text>
<text x="360.175" y="233.3" font-family='"Liberation Sans", sans-serif' font-size="7.139999999999999" font-weight="normal" fill="#000" text-anchor="start" textLength="2.8582847999999994" lengthAdjust="spacingAndGlyphs" stroke="#000" stroke-width="0.3">3</text>
<text x="384.6" y="237.5" font-family='"Liberation Sans", sans-serif' font-size="10.2" font-weight="normal" fill="#000" text-anchor="end" textLength="5.7" lengthAdjust="spacingAndGlyphs" stroke="#000" stroke-width="0.3">10</text>
<text x="385.5" y="233.3" font-family='"Liberation Sans", sans-serif' font-size="7.139999999999999" font-weight="normal" fill="#000" text-anchor="start" textLength="2.8582847999999994" lengthAdjust="spacingAndGlyphs" stroke="#000" stroke-width="0.3">4</text>
<path fill="#5f5f5f" d="M460 182h1v1h-1zM468 183h1v1h-1zM459 184h1v1h-1zM472 184h2v1h-2zM471 185h1v1h-1zM458 186h1v1h-1zM466 186h1v1h-1zM468 186h4v1h-4zM473 186h1v1h-1zM468 187h1v1h-1zM471 187h1v1h-1zM476 187h1v1h-1zM461 188h1v1h-1zM465 188h2v1h-2zM469 188h1v1h-1zM471 188h1v1h-1zM473 188h1v1h-1zM476 188h1v1h-1zM478 188h2v1h-2zM460 189h1v1h-1zM466 189h1v1h-1zM468 189h6v1h-6zM475 189h2v1h-2zM456 190h1v1h-1zM460 190h1v1h-1zM465 190h3v1h-3zM470 190h6v1h-6zM458 191h2v1h-2zM462 191h1v1h-1zM465 191h2v1h-2zM468 191h6v1h-6zM476 191h2v1h-2zM479 191h1v1h-1zM464 192h2v1h-2zM467 192h6v1h-6zM474 192h7v1h-7zM485 192h1v1h-1zM460 193h4v1h-4zM465 193h12v1h-12zM478 193h1v1h-1zM455 194h1v1h-1zM457 194h1v1h-1zM459 194h1v1h-1zM462 194h13v1h-13zM476 194h3v1h-3zM481 194h3v1h-3zM457 195h20v1h-20zM479 195h1v1h-1zM456 196h2v1h-2zM459 196h19v1h-19zM481 196h1v1h-1zM490 196h1v1h-1zM458 197h2v1h-2zM461 197h19v1h-19zM482 197h1v1h-1zM458 198h20v1h-20zM479 198h5v1h-5zM432 199h1v1h-1zM434 199h1v1h-1zM439 199h1v1h-1zM453 199h1v1h-1zM456 199h1v1h-1zM458 199h26v1h-26zM458 200h23v1h-23zM434 201h4v1h-4zM456 201h26v1h-26zM427 202h2v1h-2zM431 202h1v1h-1zM437 202h2v1h-2zM452 202h1v1h-1zM456 202h1v1h-1zM459 202h23v1h-23zM484 202h1v1h-1zM425 203h1v1h-1zM428 203h3v1h-3zM435 203h2v1h-2zM456 203h1v1h-1zM458 203h25v1h-25zM484 203h1v1h-1zM424 204h1v1h-1zM428 204h2v1h-2zM431 204h9v1h-9zM456 204h1v1h-1zM458 204h24v1h-24zM483 204h1v1h-1zM421 205h1v1h-1zM425 205h1v1h-1zM427 205h5v1h-5zM433 205h1v1h-1zM435 205h2v1h-2zM454 205h1v1h-1zM456 205h1v1h-1zM458 205h2v1h-2zM461 205h20v1h-20zM482 205h2v1h-2zM486 205h1v1h-1zM425 206h14v1h-14zM451 206h1v1h-1zM457 206h1v1h-1zM459 206h22v1h-22zM482 206h1v1h-1zM422 207h2v1h-2zM425 207h13v1h-13zM453 207h1v1h-1zM457 207h2v1h-2zM460 207h24v1h-24zM422 208h16v1h-16zM455 208h1v1h-1zM457 208h20v1h-20zM478 208h3v1h-3zM483 208h2v1h-2zM486 208h1v1h-1zM416 209h1v1h-1zM419 209h4v1h-4zM425 209h11v1h-11zM437 209h1v1h-1zM440 209h1v1h-1zM454 209h3v1h-3zM459 209h21v1h-21zM482 209h1v1h-1zM485 209h1v1h-1zM418 210h2v1h-2zM421 210h17v1h-17zM439 210h1v1h-1zM452 210h1v1h-1zM456 210h23v1h-23zM481 210h2v1h-2zM484 210h1v1h-1zM416 211h1v1h-1zM419 211h16v1h-16zM436 211h3v1h-3zM454 211h1v1h-1zM457 211h26v1h-26zM484 211h1v1h-1zM417 212h1v1h-1zM419 212h18v1h-18zM454 212h1v1h-1zM458 212h20v1h-20zM479 212h1v1h-1zM482 212h1v1h-1zM418 213h17v1h-17zM436 213h1v1h-1zM438 213h1v1h-1zM456 213h1v1h-1zM459 213h22v1h-22zM483 213h1v1h-1zM419 214h16v1h-16zM436 214h2v1h-2zM454 214h1v1h-1zM459 214h21v1h-21zM481 214h2v1h-2zM416 215h17v1h-17zM456 215h1v1h-1zM459 215h20v1h-20zM415 216h17v1h-17zM433 216h1v1h-1zM454 216h1v1h-1zM461 216h16v1h-16zM478 216h1v1h-1zM480 216h1v1h-1zM482 216h1v1h-1zM412 217h1v1h-1zM414 217h1v1h-1zM416 217h1v1h-1zM419 217h15v1h-15zM437 217h1v1h-1zM459 217h18v1h-18zM478 217h1v1h-1zM480 217h2v1h-2zM487 217h1v1h-1zM415 218h1v1h-1zM418 218h15v1h-15zM462 218h1v1h-1zM464 218h3v1h-3zM468 218h3v1h-3zM472 218h4v1h-4zM477 218h1v1h-1zM480 218h1v1h-1zM482 218h1v1h-1zM414 219h1v1h-1zM416 219h11v1h-11zM428 219h1v1h-1zM430 219h1v1h-1zM456 219h1v1h-1zM463 219h3v1h-3zM467 219h7v1h-7zM475 219h1v1h-1zM477 219h1v1h-1zM417 220h1v1h-1zM419 220h6v1h-6zM426 220h4v1h-4zM431 220h1v1h-1zM457 220h1v1h-1zM460 220h2v1h-2zM465 220h10v1h-10zM477 220h1v1h-1zM481 220h1v1h-1z"/>
<path fill="#7a7a7a" d="M461 146h1v1h-1zM460 148h1v1h-1zM483 158h1v1h-1zM486 159h1v1h-1zM501 163h1v1h-1zM438 164h1v1h-1zM471 168h1v1h-1zM447 170h1v1h-1zM461 177h1v1h-1zM459 182h1v1h-1zM444 188h1v1h-1zM475 188h1v1h-1zM467 190h1v1h-1zM460 192h1v1h-1zM462 192h1v1h-1zM464 193h1v1h-1zM469 194h1v1h-1zM476 194h1v1h-1zM461 195h1v1h-1zM478 195h1v1h-1zM461 196h1v1h-1zM467 197h1v1h-1zM461 199h1v1h-1zM466 199h1v1h-1zM470 199h1v1h-1zM470 200h1v1h-1zM472 200h1v1h-1zM482 200h1v1h-1zM448 201h1v1h-1zM447 202h1v1h-1zM453 203h1v1h-1zM462 203h1v1h-1zM438 204h1v1h-1zM440 204h1v1h-1zM445 204h1v1h-1zM464 204h1v1h-1zM466 204h1v1h-1zM470 204h1v1h-1zM447 205h1v1h-1zM462 205h1v1h-1zM448 206h1v1h-1zM453 206h1v1h-1zM455 206h1v1h-1zM451 207h1v1h-1zM463 207h1v1h-1zM467 207h1v1h-1zM444 208h2v1h-2zM449 208h1v1h-1zM455 208h1v1h-1zM459 208h1v1h-1zM436 209h1v1h-1zM442 209h1v1h-1zM444 209h2v1h-2zM449 209h1v1h-1zM456 209h1v1h-1zM461 209h1v1h-1zM468 209h1v1h-1zM481 209h1v1h-1zM436 210h2v1h-2zM439 210h1v1h-1zM447 210h1v1h-1zM449 210h1v1h-1zM455 210h2v1h-2zM462 210h1v1h-1zM472 210h1v1h-1zM474 210h1v1h-1zM439 211h1v1h-1zM442 211h1v1h-1zM446 211h1v1h-1zM449 211h2v1h-2zM456 211h3v1h-3zM434 212h1v1h-1zM441 212h2v1h-2zM446 212h1v1h-1zM452 212h2v1h-2zM435 213h1v1h-1zM451 213h2v1h-2zM456 213h1v1h-1zM443 214h1v1h-1zM448 214h2v1h-2zM456 214h1v1h-1zM448 215h2v1h-2zM456 215h1v1h-1zM469 215h1v1h-1zM423 216h1v1h-1zM439 216h1v1h-1zM445 216h1v1h-1zM449 216h1v1h-1zM453 216h1v1h-1zM457 216h1v1h-1zM439 217h1v1h-1zM453 217h1v1h-1zM455 217h1v1h-1zM459 217h1v1h-1zM447 218h1v1h-1zM456 220h1v1h-1z"/>
<path fill="#8a8a8a" d="M473 183h1v1h-1zM464 189h1v1h-1zM469 191h1v1h-1zM469 195h1v1h-1zM464 196h1v1h-1zM476 197h1v1h-1zM478 197h1v1h-1zM471 198h1v1h-1zM465 199h1v1h-1zM470 199h1v1h-1zM430 201h1v1h-1zM472 201h1v1h-1zM473 202h1v1h-1zM463 203h1v1h-1zM475 203h1v1h-1zM431 204h1v1h-1zM461 204h1v1h-1zM464 204h1v1h-1zM469 204h2v1h-2zM425 205h1v1h-1zM460 205h1v1h-1zM475 205h1v1h-1zM478 205h1v1h-1zM472 206h1v1h-1zM425 207h1v1h-1zM470 207h1v1h-1zM423 208h1v1h-1zM425 208h1v1h-1zM430 208h1v1h-1zM427 209h3v1h-3zM461 209h1v1h-1zM468 209h1v1h-1zM470 209h1v1h-1zM475 210h1v1h-1zM427 211h1v1h-1zM430 211h1v1h-1zM464 211h1v1h-1zM473 211h1v1h-1zM435 212h1v1h-1zM463 212h1v1h-1zM424 213h1v1h-1zM426 213h1v1h-1zM429 213h1v1h-1zM432 213h1v1h-1zM422 214h1v1h-1zM425 214h1v1h-1zM431 215h1v1h-1zM428 216h1v1h-1zM476 216h1v1h-1zM429 217h1v1h-1zM466 217h1v1h-1zM470 217h1v1h-1zM424 218h1v1h-1zM425 219h1v1h-1zM465 219h1v1h-1zM424 220h1v1h-1z"/>
<line x1="408.8" y1="138.8" x2="514.0" y2="138.8" stroke="#222" stroke-width="1.1" />
<line x1="514.0" y1="138.8" x2="514.0" y2="222.0" stroke="#222" stroke-width="1.1" />
<line x1="437" y1="138.8" x2="437" y2="222.0" stroke="#111" stroke-width="1.6" />
<line x1="408.8" y1="204" x2="514.0" y2="204" stroke="#111" stroke-width="1.6" />
<line x1="406.6" y1="222.0" x2="408.8" y2="222.0" stroke="#000" stroke-width="0.8" />
<line x1="407.5" y1="215.73857609018918" x2="408.8" y2="215.73857609018918" stroke="#000" stroke-width="0.8" />
<line x1="407.5" y1="212.07587790183103" x2="408.8" y2="212.07587790183103" stroke="#000" stroke-width="0.8" />
<line x1="407.5" y1="209.4771521803784" x2="408.8" y2="209.4771521803784" stroke="#000" stroke-width="0.8" />
<line x1="407.5" y1="207.4614239098108" x2="408.8" y2="207.4614239098108" stroke="#000" stroke-width="0.8" />
<line x1="407.5" y1="205.81445399202022" x2="408.8" y2="205.81445399202022" stroke="#000" stroke-width="0.8" />
<line x1="407.5" y1="204.42196076770347" x2="408.8" y2="204.42196076770347" stroke="#000" stroke-width="0.8" />
<line x1="407.5" y1="203.21572827056758" x2="408.8" y2="203.21572827056758" stroke="#000" stroke-width="0.8" />
<line x1="407.5" y1="202.15175580366204" x2="408.8" y2="202.15175580366204" stroke="#000" stroke-width="0.8" />
<line x1="406.6" y1="201.2" x2="408.8" y2="201.2" stroke="#000" stroke-width="0.8" />
<line x1="407.5" y1="194.9385760901892" x2="408.8" y2="194.9385760901892" stroke="#000" stroke-width="0.8" />
<line x1="407.5" y1="191.27587790183102" x2="408.8" y2="191.27587790183102" stroke="#000" stroke-width="0.8" />
<line x1="407.5" y1="188.67715218037839" x2="408.8" y2="188.67715218037839" stroke="#000" stroke-width="0.8" />
<line x1="407.5" y1="186.66142390981082" x2="408.8" y2="186.66142390981082" stroke="#000" stroke-width="0.8" />
<line x1="407.5" y1="185.0144539920202" x2="408.8" y2="185.0144539920202" stroke="#000" stroke-width="0.8" />
<line x1="407.5" y1="183.62196076770346" x2="408.8" y2="183.62196076770346" stroke="#000" stroke-width="0.8" />
<line x1="407.5" y1="182.41572827056757" x2="408.8" y2="182.41572827056757" stroke="#000" stroke-width="0.8" />
<line x1="407.5" y1="181.35175580366206" x2="408.8" y2="181.35175580366206" stroke="#000" stroke-width="0.8" />
<line x1="406.6" y1="180.4" x2="408.8" y2="180.4" stroke="#000" stroke-width="0.8" />
<line x1="407.5" y1="174.1385760901892" x2="408.8" y2="174.1385760901892" stroke="#000" stroke-width="0.8" />
<line x1="407.5" y1="170.47587790183104" x2="408.8" y2="170.47587790183104" stroke="#000" stroke-width="0.8" />
<line x1="407.5" y1="167.8771521803784" x2="408.8" y2="167.8771521803784" stroke="#000" stroke-width="0.8" />
<line x1="407.5" y1="165.8614239098108" x2="408.8" y2="165.8614239098108" stroke="#000" stroke-width="0.8" />
<line x1="407.5" y1="164.21445399202022" x2="408.8" y2="164.21445399202022" stroke="#000" stroke-width="0.8" />
<line x1="407.5" y1="162.82196076770347" x2="408.8" y2="162.82196076770347" stroke="#000" stroke-width="0.8" />
<line x1="407.5" y1="161.6157282705676" x2="408.8" y2="161.6157282705676" stroke="#000" stroke-width="0.8" />
<line x1="407.5" y1="160.55175580366205" x2="408.8" y2="160.55175580366205" stroke="#000" stroke-width="0.8" />
<line x1="406.6" y1="159.60000000000002" x2="408.8" y2="159.60000000000002" stroke="#000" stroke-width="0.8" />
<line x1="407.5" y1="153.33857609018918" x2="408.8" y2="153.33857609018918" stroke="#000" stroke-width="0.8" />
<line x1="407.5" y1="149.67587790183103" x2="408.8" y2="149.67587790183103" stroke="#000" stroke-width="0.8" />
<line x1="407.5" y1="147.0771521803784" x2="408.8" y2="147.0771521803784" stroke="#000" stroke-width="0.8" />
<line x1="407.5" y1="145.06142390981083" x2="408.8" y2="145.06142390981083" stroke="#000" stroke-width="0.8" />
<line x1="407.5" y1="143.4144539920202" x2="408.8" y2="143.4144539920202" stroke="#000" stroke-width="0.8" />
<line x1="407.5" y1="142.02196076770346" x2="408.8" y2="142.02196076770346" stroke="#000" stroke-width="0.8" />
<line x1="407.5" y1="140.81572827056758" x2="408.8" y2="140.81572827056758" stroke="#000" stroke-width="0.8" />
<line x1="407.5" y1="139.75175580366204" x2="408.8" y2="139.75175580366204" stroke="#000" stroke-width="0.8" />
<line x1="406.6" y1="138.8" x2="408.8" y2="138.8" stroke="#000" stroke-width="0.8" />
<line x1="408.8" y1="222.0" x2="408.8" y2="224.2" stroke="#000" stroke-width="0.8" />
<line x1="416.7170888859627" y1="222.0" x2="416.7170888859627" y2="223.3" stroke="#000" stroke-width="0.8" />
<line x1="421.34828899912713" y1="222.0" x2="421.34828899912713" y2="223.3" stroke="#000" stroke-width="0.8" />
<line x1="424.6341777719254" y1="222.0" x2="424.6341777719254" y2="223.3" stroke="#000" stroke-width="0.8" />
<line x1="427.1829111140373" y1="222.0" x2="427.1829111140373" y2="223.3" stroke="#000" stroke-width="0.8" />
<line x1="429.26537788508983" y1="222.0" x2="429.26537788508983" y2="223.3" stroke="#000" stroke-width="0.8" />
<line x1="431.026078452375" y1="222.0" x2="431.026078452375" y2="223.3" stroke="#000" stroke-width="0.8" />
<line x1="432.5512666578881" y1="222.0" x2="432.5512666578881" y2="223.3" stroke="#000" stroke-width="0.8" />
<line x1="433.89657799825426" y1="222.0" x2="433.89657799825426" y2="223.3" stroke="#000" stroke-width="0.8" />
<line x1="435.1" y1="222.0" x2="435.1" y2="224.2" stroke="#000" stroke-width="0.8" />
<line x1="443.0170888859627" y1="222.0" x2="443.0170888859627" y2="223.3" stroke="#000" stroke-width="0.8" />
<line x1="447.64828899912715" y1="222.0" x2="447.64828899912715" y2="223.3" stroke="#000" stroke-width="0.8" />
<line x1="450.9341777719254" y1="222.0" x2="450.9341777719254" y2="223.3" stroke="#000" stroke-width="0.8" />
<line x1="453.4829111140373" y1="222.0" x2="453.4829111140373" y2="223.3" stroke="#000" stroke-width="0.8" />
<line x1="455.56537788508984" y1="222.0" x2="455.56537788508984" y2="223.3" stroke="#000" stroke-width="0.8" />
<line x1="457.326078452375" y1="222.0" x2="457.326078452375" y2="223.3" stroke="#000" stroke-width="0.8" />
<line x1="458.8512666578881" y1="222.0" x2="458.8512666578881" y2="223.3" stroke="#000" stroke-width="0.8" />
<line x1="460.19657799825427" y1="222.0" x2="460.19657799825427" y2="223.3" stroke="#000" stroke-width="0.8" />
<line x1="461.4" y1="222.0" x2="461.4" y2="224.2" stroke="#000" stroke-width="0.8" />
<line x1="469.31708888596273" y1="222.0" x2="469.31708888596273" y2="223.3" stroke="#000" stroke-width="0.8" />
<line x1="473.94828899912716" y1="222.0" x2="473.94828899912716" y2="223.3" stroke="#000" stroke-width="0.8" />
<line x1="477.23417777192543" y1="222.0" x2="477.23417777192543" y2="223.3" stroke="#000" stroke-width="0.8" />
<line x1="479.7829111140373" y1="222.0" x2="479.7829111140373" y2="223.3" stroke="#000" stroke-width="0.8" />
<line x1="481.86537788508986" y1="222.0" x2="481.86537788508986" y2="223.3" stroke="#000" stroke-width="0.8" />
<line x1="483.62607845237494" y1="222.0" x2="483.62607845237494" y2="223.3" stroke="#000" stroke-width="0.8" />
<line x1="485.15126665788813" y1="222.0" x2="485.15126665788813" y2="223.3" stroke="#000" stroke-width="0.8" />
<line x1="486.4965779982542" y1="222.0" x2="486.4965779982542" y2="223.3" stroke="#000" stroke-width="0.8" />
<line x1="487.7" y1="222.0" x2="487.7" y2="224.2" stroke="#000" stroke-width="0.8" />
<line x1="495.61708888596274" y1="222.0" x2="495.61708888596274" y2="223.3" stroke="#000" stroke-width="0.8" />
<line x1="500.2482889991271" y1="222.0" x2="500.2482889991271" y2="223.3" stroke="#000" stroke-width="0.8" />
<line x1="503.53417777192544" y1="222.0" x2="503.53417777192544" y2="223.3" stroke="#000" stroke-width="0.8" />
<line x1="506.0829111140373" y1="222.0" x2="506.0829111140373" y2="223.3" stroke="#000" stroke-width="0.8" />
<line x1="508.1653778850898" y1="222.0" x2="508.1653778850898" y2="223.3" stroke="#000" stroke-width="0.8" />
<line x1="509.92607845237495" y1="222.0" x2="509.92607845237495" y2="223.3" stroke="#000" stroke-width="0.8" />
<line x1="511.45126665788814" y1="222.0" x2="511.45126665788814" y2="223.3" stroke="#000" stroke-width="0.8" />
<line x1="512.7965779982542" y1="222.0" x2="512.7965779982542" y2="223.3" stroke="#000" stroke-width="0.8" />
<line x1="514.0" y1="222.0" x2="514.0" y2="224.2" stroke="#000" stroke-width="0.8" />
<line x1="408.8" y1="138.3" x2="408.8" y2="222.5" stroke="#000" stroke-width="1.2" />
<line x1="408.3" y1="222.0" x2="514.5" y2="222.0" stroke="#000" stroke-width="1.2" />
<g transform="translate(402.80,222.00) scale(0.85,1) rotate(-90)" fill="#000" font-family='"Liberation Sans", sans-serif' stroke="#000" stroke-width="0.3"><text x="-6.20" y="0" font-size="8" textLength="9" lengthAdjust="spacingAndGlyphs">10</text><text x="3.00" y="-4.96" font-size="6.40">0</text></g>
<g transform="translate(402.80,201.20) scale(0.85,1) rotate(-90)" fill="#000" font-family='"Liberation Sans", sans-serif' stroke="#000" stroke-width="0.3"><text x="-6.20" y="0" font-size="8" textLength="9" lengthAdjust="spacingAndGlyphs">10</text><text x="3.00" y="-4.96" font-size="6.40">1</text></g>
<g transform="translate(402.80,180.40) scale(0.85,1) rotate(-90)" fill="#000" font-family='"Liberation Sans", sans-serif' stroke="#000" stroke-width="0.3"><text x="-6.20" y="0" font-size="8" textLength="9" lengthAdjust="spacingAndGlyphs">10</text><text x="3.00" y="-4.96" font-size="6.40">2</text></g>
<g transform="translate(402.80,159.60) scale(0.85,1) rotate(-90)" fill="#000" font-family='"Liberation Sans", sans-serif' stroke="#000" stroke-width="0.3"><text x="-6.20" y="0" font-size="8" textLength="9" lengthAdjust="spacingAndGlyphs">10</text><text x="3.00" y="-4.96" font-size="6.40">3</text></g>
<g transform="translate(402.80,138.80) scale(0.85,1) rotate(-90)" fill="#000" font-family='"Liberation Sans", sans-serif' stroke="#000" stroke-width="0.3"><text x="-6.20" y="0" font-size="8" textLength="9" lengthAdjust="spacingAndGlyphs">10</text><text x="3.00" y="-4.96" font-size="6.40">4</text></g>
<text x="410.90000000000003" y="233.6" font-family='"Liberation Sans", sans-serif' font-size="8.2" font-weight="normal" fill="#000" text-anchor="end" textLength="6.8" lengthAdjust="spacingAndGlyphs" stroke="#000" stroke-width="0.3">10</text>
<text x="411.8" y="228.8" font-family='"Liberation Sans", sans-serif' font-size="6.969999999999999" font-weight="normal" fill="#000" text-anchor="start" textLength="2.7902304" lengthAdjust="spacingAndGlyphs" stroke="#000" stroke-width="0.3">0</text>
<text x="437.20000000000005" y="233.6" font-family='"Liberation Sans", sans-serif' font-size="8.2" font-weight="normal" fill="#000" text-anchor="end" textLength="6.8" lengthAdjust="spacingAndGlyphs" stroke="#000" stroke-width="0.3">10</text>
<text x="438.1" y="228.8" font-family='"Liberation Sans", sans-serif' font-size="6.969999999999999" font-weight="normal" fill="#000" text-anchor="start" textLength="2.7902304" lengthAdjust="spacingAndGlyphs" stroke="#000" stroke-width="0.3">1</text>
<text x="463.5" y="233.6" font-family='"Liberation Sans", sans-serif' font-size="8.2" font-weight="normal" fill="#000" text-anchor="end" textLength="6.8" lengthAdjust="spacingAndGlyphs" stroke="#000" stroke-width="0.3">10</text>
<text x="464.4" y="228.8" font-family='"Liberation Sans", sans-serif' font-size="6.969999999999999" font-weight="normal" fill="#000" text-anchor="start" textLength="2.7902304" lengthAdjust="spacingAndGlyphs" stroke="#000" stroke-width="0.3">2</text>
<text x="489.8" y="233.6" font-family='"Liberation Sans", sans-serif' font-size="8.2" font-weight="normal" fill="#000" text-anchor="end" textLength="6.8" lengthAdjust="spacingAndGlyphs" stroke="#000" stroke-width="0.3">10</text>
<text x="490.7" y="228.8" font-family='"Liberation Sans", sans-serif' font-size="6.969999999999999" font-weight="normal" fill="#000" text-anchor="start" textLength="2.7902304" lengthAdjust="spacingAndGlyphs" stroke="#000" stroke-width="0.3">3</text>
<text x="516.1" y="233.6" font-family='"Liberation Sans", sans-serif' font-size="8.2" font-weight="normal" fill="#000" text-anchor="end" textLength="6.8" lengthAdjust="spacingAndGlyphs" stroke="#000" stroke-width="0.3">10</text>
<text x="517.0" y="228.8" font-family='"Liberation Sans", sans-serif' font-size="6.969999999999999" font-weight="normal" fill="#000" text-anchor="start" textLength="2.7902304" lengthAdjust="spacingAndGlyphs" stroke="#000" stroke-width="0.3">4</text>
<line x1="19.4" y1="244.2" x2="19.4" y2="140" stroke="#000" stroke-width="1.2" />
<polygon points="19.4,135.5 16.8,141.3 22,141.3" fill="#000" stroke="none" stroke-width="1" />
<line x1="19.4" y1="244.2" x2="119.8" y2="244.2" stroke="#000" stroke-width="1.2" />
<polygon points="123.8,244.2 118.3,241.6 118.3,246.79999999999998" fill="#000" stroke="none" stroke-width="1" />
<line x1="147.4" y1="244.2" x2="248.4" y2="244.2" stroke="#000" stroke-width="1.2" />
<polygon points="252.4,244.2 246.9,241.6 246.9,246.79999999999998" fill="#000" stroke="none" stroke-width="1" />
<line x1="275.5" y1="244.2" x2="375.6" y2="244.2" stroke="#000" stroke-width="1.2" />
<polygon points="379.6,244.2 374.1,241.6 374.1,246.79999999999998" fill="#000" stroke="none" stroke-width="1" />
<line x1="404" y1="244.2" x2="504" y2="244.2" stroke="#000" stroke-width="1.2" />
<polygon points="508,244.2 502.5,241.6 502.5,246.79999999999998" fill="#000" stroke="none" stroke-width="1" />
<text x="7.2" y="196" font-family='"Liberation Serif", serif' font-size="11" font-weight="bold" fill="#000" text-anchor="middle" textLength="36" lengthAdjust="spacing" transform="rotate(-90 7.2 196)" >IL9R<tspan font-size="13.5">α</tspan></text>
<text x="80.6" y="176.2" font-family='"Liberation Serif", serif' font-size="11.5" font-weight="bold" fill="#000" text-anchor="start" textLength="32.4" lengthAdjust="spacing" >0.87%</text>
<text x="208" y="176.8" font-family='"Liberation Serif", serif' font-size="11.5" font-weight="bold" fill="#000" text-anchor="start" textLength="33" lengthAdjust="spacing" >0.29%</text>
<text x="337" y="176.8" font-family='"Liberation Serif", serif' font-size="11.5" font-weight="bold" fill="#000" text-anchor="start" textLength="31.6" lengthAdjust="spacing" >0.46%</text>
<text x="465.4" y="176.8" font-family='"Liberation Serif", serif' font-size="11.5" font-weight="bold" fill="#000" text-anchor="start" textLength="38" lengthAdjust="spacing" >48.43%</text>
<text x="61.3" y="258.2" font-family='"Liberation Serif", serif' font-size="11.3" font-weight="normal" fill="#000" text-anchor="start" textLength="21.8" lengthAdjust="spacing" >CD3</text>
<text x="178.8" y="258.8" font-family='"Liberation Serif", serif' font-size="11.3" font-weight="normal" fill="#000" text-anchor="start" textLength="27" lengthAdjust="spacing" >CD20</text>
<text x="306.8" y="258.8" font-family='"Liberation Serif", serif' font-size="11.3" font-weight="normal" fill="#000" text-anchor="start" textLength="27" lengthAdjust="spacing" >CD16</text>
<text x="436.8" y="257.6" font-family='"Liberation Sans", sans-serif' font-size="10.8" font-weight="normal" fill="#000" text-anchor="start" textLength="31" lengthAdjust="spacing" >CD14</text>
<defs><pattern id="hat" width="3" height="5.4" patternUnits="userSpaceOnUse"><path d="M0,4.2 L2.4,1.2" stroke="#000" stroke-width="0.9"/></pattern></defs>
<line x1="45.7" y1="299.2" x2="45.7" y2="425.7" stroke="#555" stroke-width="1.1" />
<line x1="45.7" y1="425.7" x2="245.5" y2="425.7" stroke="#000" stroke-width="1.1" />
<line x1="43.7" y1="425.7" x2="45.7" y2="425.7" stroke="#555" stroke-width="1.0" />
<text x="38.9" y="427.8" font-family='"Liberation Sans", sans-serif' font-size="8.8" font-weight="bold" fill="#000" text-anchor="end" textLength="4.5" lengthAdjust="spacingAndGlyphs" >0</text>
<line x1="43.7" y1="394.2" x2="45.7" y2="394.2" stroke="#555" stroke-width="1.0" />
<text x="38.9" y="396.3" font-family='"Liberation Sans", sans-serif' font-size="8.8" font-weight="bold" fill="#000" text-anchor="end" textLength="18.0" lengthAdjust="spacingAndGlyphs" >4000</text>
<line x1="43.7" y1="362.7" x2="45.7" y2="362.7" stroke="#555" stroke-width="1.0" />
<text x="38.9" y="364.8" font-family='"Liberation Sans", sans-serif' font-size="8.8" font-weight="bold" fill="#000" text-anchor="end" textLength="18.0" lengthAdjust="spacingAndGlyphs" >8000</text>
<line x1="43.7" y1="331.2" x2="45.7" y2="331.2" stroke="#555" stroke-width="1.0" />
<text x="38.9" y="333.3" font-family='"Liberation Sans", sans-serif' font-size="8.8" font-weight="bold" fill="#000" text-anchor="end" textLength="22.5" lengthAdjust="spacingAndGlyphs" >12000</text>
<line x1="43.7" y1="299.7" x2="45.7" y2="299.7" stroke="#555" stroke-width="1.0" />
<text x="38.9" y="301.8" font-family='"Liberation Sans", sans-serif' font-size="8.8" font-weight="bold" fill="#000" text-anchor="end" textLength="22.5" lengthAdjust="spacingAndGlyphs" >16000</text>
<rect x="57.3" y="424.91249999999997" width="15.3" height="0.7875000000000227" fill="#fff" stroke="#000" stroke-width="0.9" />
<line x1="80.05000000000001" y1="422.55" x2="80.05000000000001" y2="421.36875" stroke="#000" stroke-width="1" />
<line x1="77.55000000000001" y1="421.36875" x2="82.55000000000001" y2="421.36875" stroke="#000" stroke-width="1" />
<rect x="72.4" y="422.55" width="15.3" height="3.1499999999999773" fill="#fff" stroke="#000" stroke-width="0.9" />
<rect x="72.4" y="422.55" width="15.3" height="3.1499999999999773" fill="url(#hat)" stroke="none" stroke-width="1" />
<line x1="95.35000000000001" y1="416.25" x2="95.35000000000001" y2="412.70625" stroke="#000" stroke-width="1" />
<line x1="92.85000000000001" y1="412.70625" x2="97.85000000000001" y2="412.70625" stroke="#000" stroke-width="1" />
<rect x="87.7" y="416.25" width="15.3" height="9.449999999999989" fill="#000" stroke="#000" stroke-width="0.8" />
<line x1="111.25" y1="414.28125" x2="111.25" y2="413.49375" stroke="#000" stroke-width="1" />
<line x1="108.75" y1="413.49375" x2="113.75" y2="413.49375" stroke="#000" stroke-width="1" />
<rect x="103.6" y="414.28125" width="15.3" height="11.418749999999989" fill="#fff" stroke="#000" stroke-width="0.9" />
<line x1="127.05000000000001" y1="417.825" x2="127.05000000000001" y2="416.88" stroke="#000" stroke-width="1" />
<line x1="124.55000000000001" y1="416.88" x2="129.55" y2="416.88" stroke="#000" stroke-width="1" />
<rect x="119.4" y="417.825" width="15.3" height="7.875" fill="#fff" stroke="#000" stroke-width="0.9" />
<rect x="119.4" y="417.825" width="15.3" height="7.875" fill="url(#hat)" stroke="none" stroke-width="1" />
<line x1="165.25" y1="421.36875" x2="165.25" y2="418.21875" stroke="#000" stroke-width="1" />
<line x1="162.75" y1="418.21875" x2="167.75" y2="418.21875" stroke="#000" stroke-width="1" />
<rect x="157.6" y="421.36875" width="15.3" height="4.331250000000011" fill="#fff" stroke="#000" stroke-width="0.9" />
<line x1="180.55" y1="421.92" x2="180.55" y2="421.1325" stroke="#000" stroke-width="1" />
<line x1="178.05" y1="421.1325" x2="183.05" y2="421.1325" stroke="#000" stroke-width="1" />
<rect x="172.9" y="421.92" width="15.3" height="3.7799999999999727" fill="#fff" stroke="#000" stroke-width="0.9" />
<rect x="172.9" y="421.92" width="15.3" height="3.7799999999999727" fill="url(#hat)" stroke="none" stroke-width="1" />
<line x1="195.85" y1="335.1375" x2="195.85" y2="322.5375" stroke="#000" stroke-width="1" />
<line x1="193.35" y1="322.5375" x2="198.35" y2="322.5375" stroke="#000" stroke-width="1" />
<rect x="188.2" y="335.1375" width="15.3" height="90.5625" fill="#000" stroke="#000" stroke-width="0.8" />
<line x1="211.15" y1="343.40625" x2="211.15" y2="338.83875" stroke="#000" stroke-width="1" />
<line x1="208.65" y1="338.83875" x2="213.65" y2="338.83875" stroke="#000" stroke-width="1" />
<rect x="203.5" y="343.40625" width="15.3" height="82.29374999999999" fill="#fff" stroke="#000" stroke-width="0.9" />
<line x1="226.45000000000002" y1="376.0875" x2="226.45000000000002" y2="369.39375" stroke="#000" stroke-width="1" />
<line x1="223.95000000000002" y1="369.39375" x2="228.95000000000002" y2="369.39375" stroke="#000" stroke-width="1" />
<rect x="218.8" y="376.0875" width="15.3" height="49.61250000000001" fill="#fff" stroke="#000" stroke-width="0.9" />
<rect x="218.8" y="376.0875" width="15.3" height="49.61250000000001" fill="url(#hat)" stroke="none" stroke-width="1" />
<line x1="45.7" y1="425.7" x2="245.5" y2="425.7" stroke="#000" stroke-width="1.1" />
<text x="94" y="435.5" font-family='"Liberation Serif", serif' font-size="10.9" font-weight="bold" fill="#000" text-anchor="start" textLength="34.6" lengthAdjust="spacing" >Normal</text>
<text x="203.3" y="435.3" font-family='"Liberation Serif", serif' font-size="10.8" font-weight="bold" fill="#000" text-anchor="start" textLength="22" lengthAdjust="spacing" >ATL</text>
<rect x="54.6" y="307.5" width="3.4" height="3.4" fill="#fff" stroke="#333" stroke-width="0.9" />
<text x="61.2" y="311.9" font-family='"Liberation Sans", sans-serif' font-size="7.4" font-weight="bold" fill="#000" text-anchor="start" textLength="26.5" lengthAdjust="spacing" >T cells</text>
<rect x="54.6" y="322.2" width="3.4" height="3.4" fill="#fff" stroke="#333" stroke-width="0.9" />
<line x1="55.1" y1="325.2" x2="57.6" y2="322.7" stroke="#555" stroke-width="0.9" />
<text x="61.2" y="326.59999999999997" font-family='"Liberation Sans", sans-serif' font-size="7.4" font-weight="bold" fill="#000" text-anchor="start" textLength="44.8" lengthAdjust="spacing" >monocytes</text>
<rect x="54.6" y="336.5" width="3.4" height="3.4" fill="#000" stroke="#000" stroke-width="0.8" />
<text x="61.2" y="340.9" font-family='"Liberation Sans", sans-serif' font-size="7.4" font-weight="bold" fill="#000" text-anchor="start" textLength="76" lengthAdjust="spacing" >T cells+monocytes</text>
<rect x="54.6" y="350.7" width="3.4" height="3.4" fill="#fff" stroke="#333" stroke-width="0.9" />
<text x="61.2" y="355.09999999999997" font-family='"Liberation Sans", sans-serif' font-size="7.4" font-weight="bold" fill="#000" text-anchor="start" textLength="105.5" lengthAdjust="spacing" >T cells+monocytes+UPC10</text>
<rect x="54.6" y="364.90000000000003" width="3.4" height="3.4" fill="#fff" stroke="#333" stroke-width="0.9" />
<line x1="55.1" y1="367.90000000000003" x2="57.6" y2="365.40000000000003" stroke="#555" stroke-width="0.9" />
<text x="61.2" y="369.3" font-family='"Liberation Sans", sans-serif' font-size="7.4" font-weight="bold" fill="#000" text-anchor="start" textLength="116" lengthAdjust="spacing" >T cells+monocytes+anti-IL9R</text>
<text x="10.9" y="358.3" font-family='"Liberation Serif", serif' font-size="10.8" font-weight="bold" fill="#000" text-anchor="middle" textLength="112" lengthAdjust="spacing" transform="rotate(-90 10.9 358.3)" ><tspan font-size="7" dy="-3.6">3</tspan><tspan dy="3.6">H incorporation (cpm)</tspan></text>
<line x1="331.2" y1="306.9" x2="331.2" y2="425.3" stroke="#000" stroke-width="1.0" />
<line x1="331.2" y1="425.3" x2="508.8" y2="425.3" stroke="#000" stroke-width="1.0" />
<line x1="327.6" y1="425.3" x2="331.2" y2="425.3" stroke="#000" stroke-width="1.0" />
<text x="319.6" y="428.6" font-family='"Liberation Sans", sans-serif' font-size="11.8" font-weight="normal" fill="#000" text-anchor="end" >0</text>
<line x1="327.6" y1="395.7" x2="331.2" y2="395.7" stroke="#000" stroke-width="1.0" />
<text x="319.6" y="399.0" font-family='"Liberation Sans", sans-serif' font-size="11.8" font-weight="normal" fill="#000" text-anchor="end" >4000</text>
<line x1="327.6" y1="366.1" x2="331.2" y2="366.1" stroke="#000" stroke-width="1.0" />
<text x="319.6" y="369.40000000000003" font-family='"Liberation Sans", sans-serif' font-size="11.8" font-weight="normal" fill="#000" text-anchor="end" >8000</text>
<line x1="327.6" y1="336.5" x2="331.2" y2="336.5" stroke="#000" stroke-width="1.0" />
<text x="319.6" y="339.8" font-family='"Liberation Sans", sans-serif' font-size="11.8" font-weight="normal" fill="#000" text-anchor="end" >12000</text>
<line x1="327.6" y1="306.9" x2="331.2" y2="306.9" stroke="#000" stroke-width="1.0" />
<text x="319.6" y="310.2" font-family='"Liberation Sans", sans-serif' font-size="11.8" font-weight="normal" fill="#000" text-anchor="end" >16000</text>
<line x1="331.2" y1="425.3" x2="331.2" y2="429.6" stroke="#000" stroke-width="1.0" />
<line x1="419.5" y1="425.3" x2="419.5" y2="429.6" stroke="#000" stroke-width="1.0" />
<line x1="508.8" y1="425.3" x2="508.8" y2="429.6" stroke="#000" stroke-width="1.0" />
<line x1="375.6" y1="358.7" x2="375.6" y2="319.48" stroke="#000" stroke-width="1.1" />
<line x1="370.2" y1="319.48" x2="381.2" y2="319.48" stroke="#000" stroke-width="1.2" />
<rect x="356.7" y="358.7" width="37.6" height="66.60000000000002" fill="#000" stroke="none" stroke-width="1" />
<line x1="465.2" y1="417.16" x2="465.2" y2="416.05" stroke="#000" stroke-width="1" />
<line x1="460" y1="416.05" x2="470.5" y2="416.05" stroke="#000" stroke-width="1" />
<rect x="445.2" y="417.16" width="38" height="8.139999999999986" fill="#000" stroke="none" stroke-width="1" />
<text x="342.5" y="441.8" font-family='"Liberation Sans", sans-serif' font-size="10.8" font-weight="bold" fill="#000" text-anchor="start" textLength="66.5" lengthAdjust="spacing" >same well</text>
<text x="432.5" y="441.8" font-family='"Liberation Sans", sans-serif' font-size="10.8" font-weight="bold" fill="#000" text-anchor="start" textLength="62" lengthAdjust="spacing" >transwell</text>
<text x="273.2" y="370" font-family='"Liberation Serif", serif' font-size="11.8" font-weight="bold" fill="#000" text-anchor="middle" textLength="123" lengthAdjust="spacing" transform="rotate(-90 273.2 370)" ><tspan font-size="7.8" dy="-4">3</tspan><tspan dy="4">H incorporation (cpm)</tspan></text>
</svg>
</body></html>
